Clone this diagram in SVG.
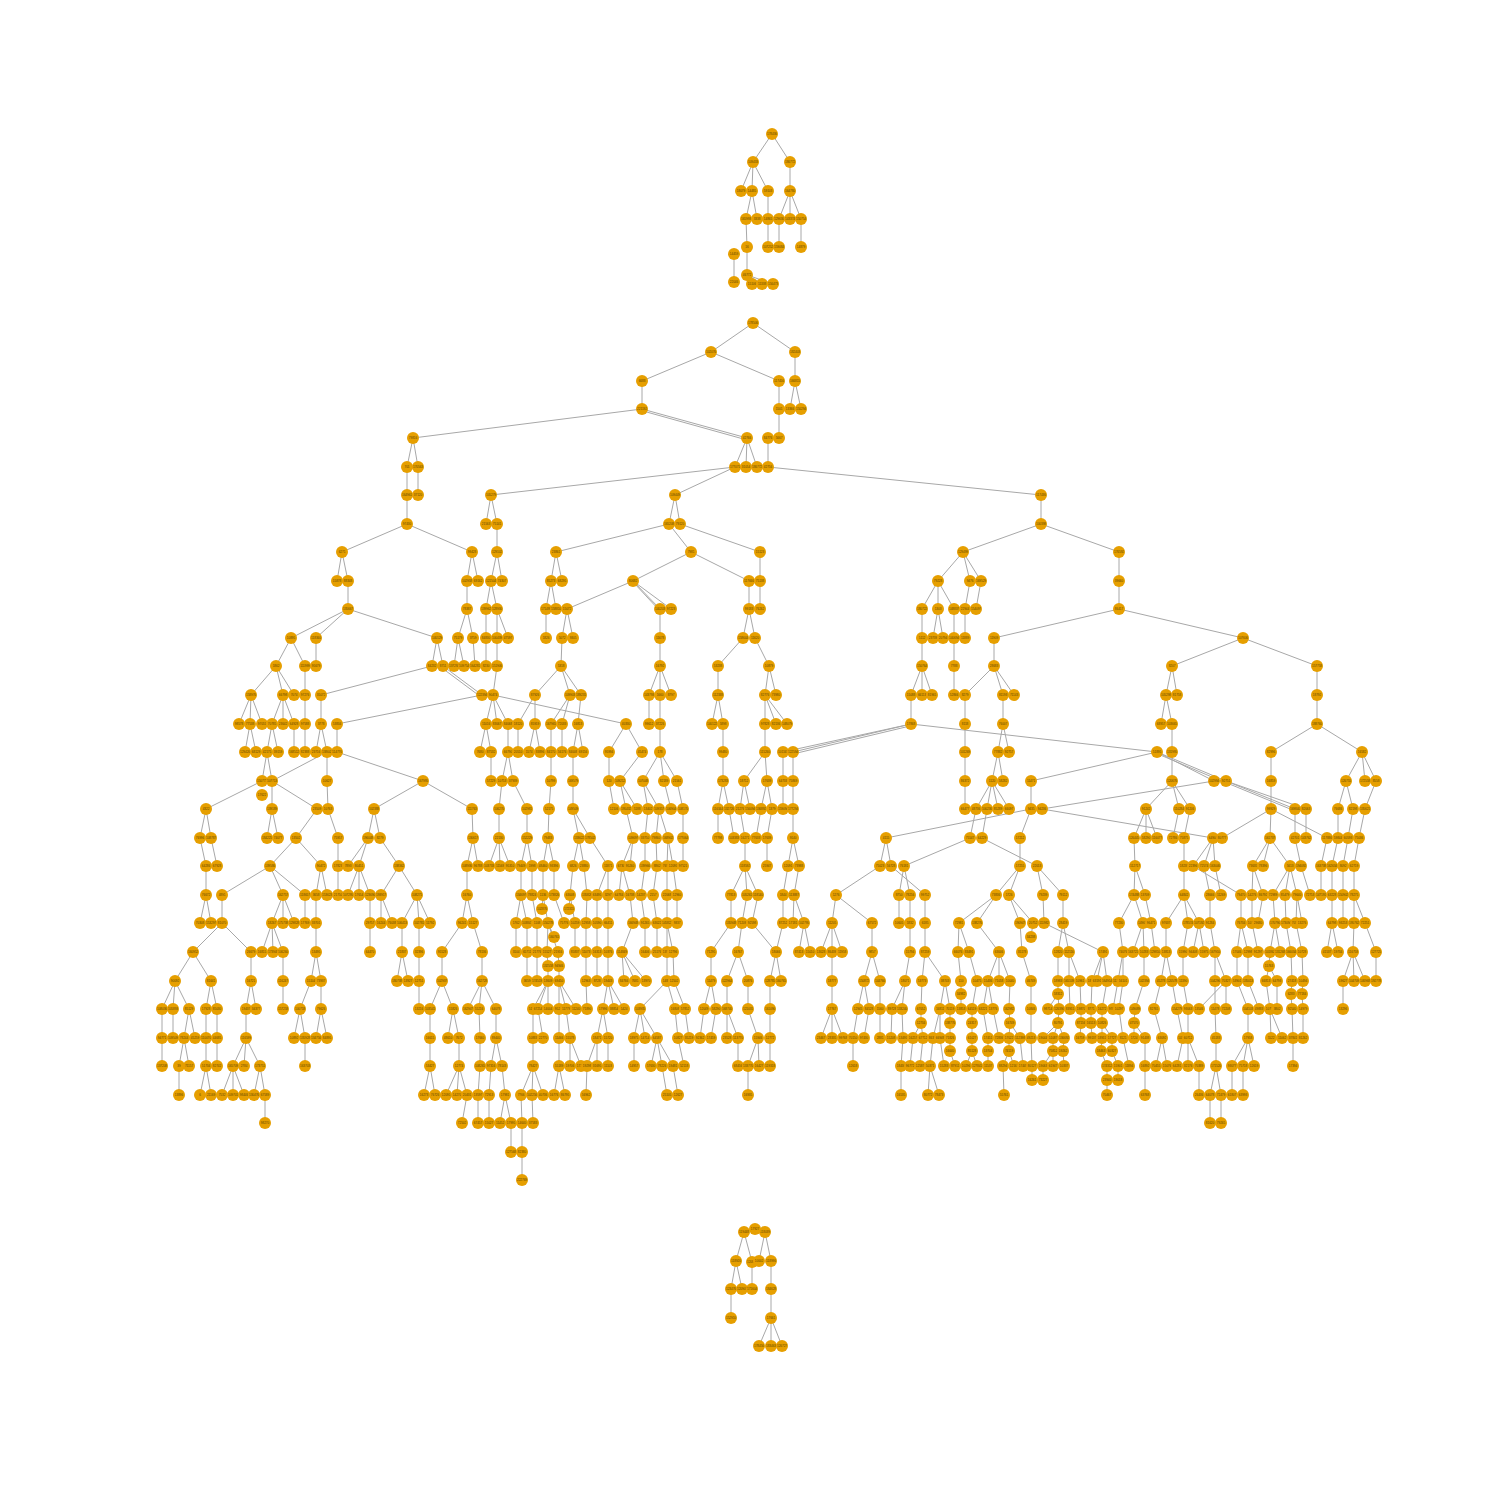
<svg xmlns="http://www.w3.org/2000/svg" width="1500" height="1500" viewBox="0 0 1500 1500">
<style>
#edges path{fill:none;stroke:#a8a8a8;stroke-width:1}
#nodes circle{fill:#e69f00}
#nodes text{font-family:"Liberation Sans",Arial,sans-serif;font-size:3px;fill:#5b4300;text-anchor:middle;dominant-baseline:central}
</style>
<rect width="1500" height="1500" fill="#ffffff"/>
<g id="edges">
<path d="M772 134 753 162M772 134 790 162M753 162 741 191M753 162 752 191M753 162 768 191M790 162 790 191M752 191 746 219M752 191 757 219M768 191 768 219M790 191 779 219M790 191 790 219M790 191 801 219M746 219 747 247M768 219 768 247M779 219 779 247M801 219 801 247M734 254 734 282M747 247 747 275M747 275 752 284M747 275 762 284M747 275 773 284"/>
<path d="M753 323 711 352M753 323 795 352M711 352 642 381M711 352 779 381M795 352 795 381M642 381 642 409M779 381 779 409M795 381 790 409M795 381 801 409M642 409 413 438M642 409 747 438M643 411 747 440M779 409 779 438M413 438 407 467M413 438 418 467M747 438 735 467M747 438 746 467M747 438 757 467M768 438 768 467M407 467 407 495M418 467 418 495M735 467 491 495M735 467 675 495M768 467 1041 495M407 495 407 524M491 495 486 524M491 495 497 524M675 495 669 524M675 495 680 524M1041 495 1041 524M407 524 342 552M407 524 472 552M497 524 497 552M669 524 556 552M669 524 691 552M680 524 760 552M1041 524 963 552M1041 524 1119 552M342 552 337 581M342 552 348 581M472 552 467 581M472 552 478 581M497 552 491 581M497 552 502 581M556 552 551 581M556 552 562 581M691 552 633 581M691 552 749 581M760 552 760 581M963 552 938 581M963 552 970 581M963 552 981 581M1119 552 1119 581"/>
<path d="M348 581 348 609M467 581 467 609M491 581 486 609M491 581 497 609M551 581 546 609M551 581 556 609M633 581 567 609M633 581 660 609M633 581 671 609M634 583 660 611M749 581 749 609M760 581 760 609M938 581 922 609M938 581 938 609M938 581 954 609M970 581 965 609M981 581 976 609M1119 581 1119 609M348 609 291 638M348 609 316 638M348 609 437 638M467 609 458 638M467 609 473 638M486 609 486 638M497 609 497 638M497 609 508 638M546 609 546 638M567 609 562 638M567 609 573 638M660 609 660 638M749 609 743 638M749 609 755 638M922 609 922 638M938 609 933 638M938 609 943 638M954 609 954 638M965 609 965 638M1119 609 994 638M1119 609 1243 638M291 638 276 666M291 638 305 666M316 638 316 666M437 638 432 666M437 638 443 666M458 638 454 666M458 638 464 666M473 638 475 666M486 638 486 666M497 638 497 666M562 638 561 666M660 638 660 666M743 638 718 666M755 638 769 666M922 638 922 666M954 638 954 666M994 638 994 666M1243 638 1172 666M1243 638 1317 666"/>
<path d="M276 666 251 695M276 666 283 695M276 666 294 695M305 666 305 695M432 666 321 695M443 666 482 695M442 668 481 697M497 666 493 695M561 666 535 695M561 666 570 695M561 666 581 695M660 666 649 695M660 666 660 695M660 666 671 695M718 666 718 695M769 666 765 695M769 666 776 695M922 666 911 695M922 666 922 695M922 666 932 695M954 666 954 695M994 666 965 695M994 666 1003 695M994 666 1014 695M1172 666 1166 695M1172 666 1177 695M1317 666 1317 695M251 695 239 724M251 695 250 724M251 695 262 724M283 695 272 724M283 695 283 724M283 695 294 724M305 695 305 724M321 695 321 724M482 695 337 724M493 695 486 724M493 695 497 724M493 695 508 724M493 695 626 724M535 695 518 724M535 695 535 724M570 695 551 724M570 695 562 724M581 695 578 724M649 695 649 724M660 695 660 724M718 695 712 724M718 695 723 724M765 695 765 724M765 695 776 724M765 695 787 724M911 695 911 724M965 695 965 724M1003 695 1003 724M1166 695 1161 724M1166 695 1172 724M1317 695 1317 724"/>
<path d="M250 724 245 752M250 724 256 752M272 724 267 752M272 724 278 752M294 724 294 752M305 724 305 752M321 724 316 752M321 724 327 752M337 724 337 752M486 724 480 752M486 724 491 752M508 724 508 752M518 724 518 752M535 724 529 752M535 724 540 752M551 724 551 752M562 724 562 752M578 724 573 752M578 724 583 752M626 724 609 752M626 724 642 752M660 724 660 752M723 724 723 752M765 724 765 752M911 724 783 752M911 724 793 752M910 726 793 754M911 724 1157 752M965 724 965 752M1003 724 998 752M1003 724 1009 752M1172 724 1172 752M1317 724 1271 752M1317 724 1362 752M267 752 262 781M267 752 272 781M327 752 327 781M327 752 272 781M337 752 423 781M491 752 491 781M508 752 502 781M508 752 513 781M551 752 551 781M573 752 573 781M609 752 609 781M642 752 620 781M660 752 643 781M660 752 664 781M660 752 677 781M723 752 723 781M765 752 744 781M765 752 767 781M783 752 783 781M793 752 793 781M965 752 965 781M998 752 992 781M998 752 1003 781M1157 752 1031 781M1157 752 1214 781M1157 752 1226 781M1158 754 1226 783M1172 752 1172 781M1271 752 1271 781M1362 752 1346 781M1362 752 1365 781M1362 752 1376 781"/>
<path d="M262 781 206 809M272 781 272 809M272 781 317 809M327 781 328 809M423 781 374 809M423 781 472 809M502 781 499 809M513 781 527 809M551 781 549 809M573 781 573 809M609 781 614 809M620 781 626 809M620 781 637 809M643 781 648 809M643 781 659 809M664 781 671 809M677 781 683 809M723 781 718 809M723 781 729 809M744 781 740 809M744 781 750 809M767 781 761 809M767 781 772 809M783 781 783 809M793 781 793 809M965 781 965 809M992 781 976 809M992 781 987 809M992 781 998 809M992 781 1009 809M1031 781 1031 809M1214 781 1042 809M1172 781 1146 809M1172 781 1179 809M1172 781 1190 809M1226 781 1295 809M1226 781 1306 809M1227 783 1295 811M1271 781 1271 809M1346 781 1338 809M1346 781 1353 809M1376 781 1365 809M206 809 200 838M206 809 211 838M272 809 267 838M272 809 278 838M317 809 296 838M328 809 338 838M374 809 368 838M374 809 380 838M472 809 473 838M499 809 499 838M527 809 527 838M549 809 548 838M573 809 579 838M573 809 590 838M626 809 633 838M648 809 645 838M659 809 656 838M659 809 668 838M683 809 683 838M718 809 718 838M729 809 734 838M740 809 745 838M761 809 756 838M772 809 767 838M793 809 793 838M1031 809 886 838M1031 809 1020 838M976 809 970 838M987 809 982 838M1042 809 1213 838M1271 809 1222 838M1271 809 1270 838M1271 809 1327 838M1146 809 1134 838M1146 809 1146 838M1146 809 1157 838M1179 809 1173 838M1190 809 1184 838M1295 809 1295 838M1306 809 1306 838M1338 809 1338 838M1353 809 1348 838M1365 809 1359 838"/>
<path d="M200 838 206 866M211 838 217 866M296 838 270 866M296 838 321 866M338 838 338 866M368 838 348 866M368 838 359 866M380 838 399 866M473 838 467 866M473 838 478 866M499 838 489 866M499 838 500 866M499 838 510 866M527 838 521 866M527 838 532 866M548 838 543 866M548 838 554 866M579 838 573 866M579 838 584 866M590 838 608 866M633 838 622 866M633 838 630 866M645 838 645 866M656 838 657 866M668 838 667 866M668 838 673 866M683 838 683 866M745 838 745 866M767 838 767 866M793 838 788 866M793 838 799 866M886 838 880 866M886 838 891 866M970 838 904 866M982 838 1037 866M1020 838 1020 866M1134 838 1135 866M1184 838 1184 866M1213 838 1193 866M1213 838 1204 866M1213 838 1215 866M1270 838 1253 866M1270 838 1263 866M1270 838 1290 866M1295 838 1301 866M1327 838 1321 866M1338 838 1332 866M1348 838 1343 866M1359 838 1354 866"/>
<path d="M206 866 206 895M270 866 222 895M270 866 283 895M270 866 305 895M321 866 316 895M321 866 327 895M338 866 338 895M359 866 348 895M359 866 359 895M359 866 370 895M399 866 381 895M399 866 417 895M467 866 467 895M521 866 521 895M532 866 532 895M543 866 543 895M554 866 554 895M573 866 570 895M584 866 587 895M608 866 597 895M608 866 608 895M622 866 619 895M622 866 630 895M645 866 641 895M657 866 653 895M667 866 667 895M673 866 677 895M745 866 731 895M745 866 747 895M745 866 758 895M788 866 783 895M799 866 794 895M880 866 836 895M904 866 899 895M904 866 910 895M891 866 925 895M1020 866 996 895M1020 866 1009 895M1037 866 1043 895M1037 866 1063 895M1135 866 1134 895M1135 866 1145 895M1184 866 1184 895M1204 866 1210 895M1215 866 1221 895M1193 866 1241 895M1253 866 1252 895M1253 866 1263 895M1290 866 1273 895M1290 866 1285 895M1290 866 1297 895M1301 866 1310 895M1321 866 1321 895M1332 866 1332 895M1343 866 1343 895M1354 866 1354 895"/>
<path d="M206 895 200 923M206 895 211 923M222 895 222 923M283 895 272 923M283 895 283 923M283 895 294 923M305 895 305 923M316 895 316 923M370 895 370 923M381 895 381 923M381 895 392 923M417 895 402 923M417 895 419 923M417 895 430 923M467 895 462 923M467 895 473 923M521 895 516 923M521 895 527 923M532 895 537 923M543 895 548 923M543 895 542 909M554 895 564 923M570 895 569 909M570 895 575 923M587 895 586 923M597 895 597 923M608 895 608 923M630 895 633 923M641 895 645 923M653 895 657 923M667 895 667 923M677 895 677 923M731 895 731 923M747 895 742 923M758 895 752 923M783 895 783 923M794 895 793 923M794 895 804 923M836 895 832 923M836 895 872 923M899 895 899 923M910 895 910 923M925 895 925 923M996 895 959 923M996 895 977 923M1009 895 1020 923M1009 895 1033 923M1043 895 1044 923M1063 895 1063 923M1134 895 1119 923M1134 895 1143 923M1145 895 1151 923M1184 895 1166 923M1184 895 1188 923M1184 895 1199 923M1210 895 1210 923M1241 895 1241 923M1252 895 1252 923M1263 895 1258 923M1273 895 1275 923M1285 895 1286 923M1297 895 1296 923M1297 895 1302 923M1332 895 1332 923M1343 895 1343 923M1354 895 1354 923M1354 895 1365 923"/>
<path d="M222 923 193 952M222 923 251 952M272 923 262 952M272 923 273 952M272 923 283 952M316 923 316 952M370 923 370 952M402 923 402 952M419 923 419 952M462 923 442 952M473 923 482 952M516 923 516 952M527 923 527 952M537 923 537 952M548 923 547 952M548 923 558 952M548 923 554 937M575 923 575 952M586 923 586 952M597 923 597 952M608 923 608 952M633 923 622 952M645 923 645 952M657 923 657 952M667 923 667 952M667 923 673 952M731 923 711 952M742 923 738 952M752 923 776 952M783 923 776 952M804 923 799 952M804 923 810 952M832 923 821 952M832 923 832 952M832 923 842 952M872 923 872 952M910 923 910 952M925 923 925 952M959 923 958 952M959 923 969 952M977 923 999 952M1020 923 1022 952M1033 923 1031 937M1044 923 1103 952M1063 923 1058 952M1063 923 1069 952M1119 923 1123 952M1143 923 1133 952M1143 923 1144 952M1151 923 1155 952M1166 923 1166 952M1188 923 1183 952M1199 923 1193 952M1199 923 1204 952M1210 923 1215 952M1241 923 1237 952M1241 923 1248 952M1252 923 1258 952M1275 923 1270 952M1275 923 1280 952M1286 923 1291 952M1296 923 1302 952M1332 923 1327 952M1332 923 1338 952M1354 923 1353 952M1365 923 1376 952"/>
<path d="M547 952 548 966M558 952 559 966M1270 952 1269 966M193 952 175 981M193 952 211 981M251 952 251 981M283 952 283 981M316 952 311 981M316 952 321 981M402 952 397 981M402 952 408 981M419 952 419 981M442 952 442 981M482 952 482 981M527 952 527 981M537 952 537 981M548 966 548 981M559 966 559 981M586 952 586 981M597 952 597 981M608 952 608 981M622 952 624 981M622 952 635 981M622 952 646 981M667 952 667 981M673 952 674 981M711 952 711 981M738 952 727 981M738 952 748 981M776 952 770 981M776 952 781 981M832 952 832 981M872 952 864 981M872 952 880 981M910 952 905 981M925 952 922 981M925 952 945 981M958 952 961 981M969 952 977 981M999 952 988 981M999 952 999 981M999 952 1010 981M1022 952 1031 981M1058 952 1058 981M1069 952 1069 981M1069 952 1080 981M1103 952 1092 981M1103 952 1097 981M1103 952 1107 981M1123 952 1118 981M1123 952 1123 981M1144 952 1144 981M1166 952 1161 981M1166 952 1172 981M1183 952 1183 981M1215 952 1215 981M1215 952 1226 981M1237 952 1237 981M1248 952 1248 981M1269 966 1266 981M1269 966 1277 981M1291 952 1292 981M1302 952 1303 981M1353 952 1343 981M1353 952 1354 981M1353 952 1365 981M1376 952 1376 981"/>
<path d="M961 981 961 994M1058 981 1058 994M1292 981 1291 994M1303 981 1302 994M175 981 162 1009M175 981 173 1009M175 981 189 1009M211 981 206 1009M211 981 217 1009M251 981 246 1009M251 981 256 1009M283 981 283 1009M311 981 300 1009M321 981 321 1009M419 981 419 1009M442 981 430 1009M442 981 453 1009M482 981 468 1009M482 981 479 1009M482 981 496 1009M548 981 533 1009M548 981 538 1009M548 981 548 1009M559 981 559 1009M559 981 566 1009M559 981 576 1009M586 981 587 1009M608 981 603 1009M608 981 614 1009M608 981 624 1009M667 981 640 1009M667 981 675 1009M674 981 685 1009M711 981 704 1009M711 981 716 1009M727 981 727 1009M748 981 748 1009M770 981 770 1009M832 981 832 1009M864 981 858 1009M864 981 869 1009M880 981 880 1009M905 981 892 1009M905 981 902 1009M922 981 921 1009M945 981 940 1009M945 981 950 1009M961 994 961 1009M977 981 972 1009M988 981 983 1009M988 981 993 1009M1010 981 1009 1009M1031 981 1031 1009M1058 994 1048 1009M1058 994 1059 1009M1069 981 1070 1009M1080 981 1081 1009M1092 981 1091 1009M1107 981 1102 1009M1118 981 1113 1009M1123 981 1119 1009M1144 981 1135 1009M1161 981 1154 1009M1172 981 1177 1009M1183 981 1188 1009M1215 981 1215 1009M1226 981 1199 1009M1226 981 1226 1009M1237 981 1248 1009M1248 981 1259 1009M1266 981 1270 1009M1277 981 1277 1009M1291 994 1292 1009M1302 994 1303 1009M1343 981 1343 1009"/>
<path d="M921 1009 921 1023M950 1009 950 1023M972 1009 972 1023M1009 1009 1010 1023M1059 1009 1058 1023M1081 1009 1081 1023M1091 1009 1091 1023M1102 1009 1102 1023M1135 1009 1134 1023M162 1009 162 1038M173 1009 173 1038M189 1009 184 1038M189 1009 195 1038M206 1009 206 1038M217 1009 217 1038M246 1009 246 1038M300 1009 294 1038M300 1009 305 1038M321 1009 316 1038M321 1009 327 1038M430 1009 430 1038M453 1009 448 1038M453 1009 459 1038M479 1009 480 1038M496 1009 496 1038M533 1009 533 1038M538 1009 543 1038M559 1009 559 1038M566 1009 570 1038M603 1009 597 1038M603 1009 608 1038M640 1009 634 1038M640 1009 645 1038M640 1009 657 1038M675 1009 678 1038M685 1009 689 1038M704 1009 700 1038M716 1009 711 1038M727 1009 727 1038M727 1009 738 1038M748 1009 758 1038M770 1009 770 1038M832 1009 821 1038M832 1009 832 1038M832 1009 843 1038M858 1009 853 1038M869 1009 864 1038M880 1009 880 1038M892 1009 891 1038M902 1009 903 1038M921 1023 913 1038M921 1023 923 1038M940 1009 933 1038M940 1009 940 1038M950 1023 950 1038M972 1023 972 1038M983 1009 988 1038M993 1009 999 1038M1010 1023 1009 1038M1010 1023 1020 1038M1031 1009 1031 1038M1058 1023 1043 1038M1058 1023 1053 1038M1058 1023 1064 1038M1081 1023 1080 1038M1091 1023 1092 1038M1102 1023 1102 1038M1102 1023 1112 1038M1119 1009 1123 1038M1134 1023 1134 1038M1134 1023 1145 1038M1154 1009 1162 1038M1177 1009 1183 1038M1188 1009 1188 1038M1215 1009 1216 1038M1248 1009 1248 1038M1270 1009 1271 1038M1270 1009 1282 1038M1292 1009 1293 1038M1303 1009 1303 1038"/>
<path d="M950 1038 950 1051M972 1038 972 1051M988 1038 988 1051M1009 1038 1009 1051M1053 1038 1053 1051M1064 1038 1063 1051M1102 1038 1101 1051M1112 1038 1112 1051M162 1038 162 1066M184 1038 179 1066M184 1038 189 1066M206 1038 206 1066M217 1038 217 1066M246 1038 233 1066M246 1038 244 1066M246 1038 260 1066M305 1038 305 1066M430 1038 430 1066M459 1038 459 1066M480 1038 480 1066M496 1038 491 1066M496 1038 502 1066M533 1038 533 1066M559 1038 559 1066M570 1038 570 1066M570 1038 581 1066M597 1038 587 1066M597 1038 597 1066M608 1038 608 1066M634 1038 634 1066M657 1038 651 1066M657 1038 662 1066M657 1038 673 1066M678 1038 684 1066M738 1038 738 1066M758 1038 748 1066M758 1038 759 1066M770 1038 770 1066M853 1038 853 1066M903 1038 901 1066M913 1038 910 1066M923 1038 920 1066M933 1038 930 1066M940 1038 944 1066M950 1051 955 1066M972 1051 966 1066M972 1051 977 1066M988 1051 988 1066M1009 1051 1003 1066M1009 1051 1014 1066M1020 1038 1023 1066M1031 1038 1032 1066M1053 1051 1043 1066M1053 1051 1053 1066M1063 1051 1064 1066M1101 1051 1107 1066M1112 1051 1118 1066M1123 1038 1129 1066M1145 1038 1145 1066M1162 1038 1156 1066M1162 1038 1167 1066M1183 1038 1177 1066M1188 1038 1188 1066M1188 1038 1199 1066M1216 1038 1216 1066M1248 1038 1232 1066M1248 1038 1243 1066M1248 1038 1254 1066M1293 1038 1293 1066"/>
<path d="M1032 1066 1032 1080M1043 1066 1043 1080M1107 1066 1107 1080M1118 1066 1118 1080M179 1066 179 1095M206 1066 200 1095M206 1066 211 1095M233 1066 222 1095M233 1066 233 1095M233 1066 244 1095M260 1066 254 1095M260 1066 265 1095M430 1066 424 1095M430 1066 435 1095M459 1066 446 1095M459 1066 457 1095M459 1066 467 1095M480 1066 478 1095M491 1066 489 1095M502 1066 505 1095M533 1066 521 1095M533 1066 532 1095M533 1066 543 1095M559 1066 554 1095M559 1066 565 1095M587 1066 586 1095M662 1066 667 1095M673 1066 678 1095M748 1066 748 1095M901 1066 901 1095M930 1066 928 1095M930 1066 939 1095M1003 1066 1004 1095M1107 1080 1107 1095M1145 1066 1145 1095M1199 1066 1199 1095M1216 1066 1210 1095M1216 1066 1221 1095M1232 1066 1232 1095M1243 1066 1243 1095M265 1095 265 1123M467 1095 462 1123M478 1095 478 1123M489 1095 489 1123M505 1095 500 1123M505 1095 511 1123M521 1095 522 1123M532 1095 533 1123M1210 1095 1210 1123M1221 1095 1221 1123M511 1123 511 1152M522 1123 522 1152M522 1152 522 1180"/>
<path d="M755 1229 744 1232M755 1229 765 1232M744 1232 736 1261M744 1232 752 1262M765 1232 759 1261M765 1232 771 1261M736 1261 731 1289M736 1261 742 1289M752 1262 752 1289M771 1261 771 1289M731 1289 731 1318M771 1289 771 1318M771 1318 759 1346M771 1318 771 1346M771 1318 782 1346"/>
</g>
<g id="nodes">
<g id="t1" transform="translate(772 134)"><circle r="6"/><text>178436</text></g>
<g id="t2" transform="translate(753 162)"><circle r="6"/><text>109433</text></g>
<g id="t3" transform="translate(790 162)"><circle r="6"/><text>186772</text></g>
<g id="t4" transform="translate(741 191)"><circle r="6"/><text>18079</text></g>
<g id="t5" transform="translate(752 191)"><circle r="6"/><text>14485</text></g>
<g id="t6" transform="translate(768 191)"><circle r="6"/><text>59103</text></g>
<g id="t7" transform="translate(790 191)"><circle r="6"/><text>164780</text></g>
<g id="t8" transform="translate(746 219)"><circle r="6"/><text>165993</text></g>
<g id="t9" transform="translate(757 219)"><circle r="6"/><text>3338</text></g>
<g id="t10" transform="translate(768 219)"><circle r="6"/><text>14865</text></g>
<g id="t11" transform="translate(779 219)"><circle r="6"/><text>129630</text></g>
<g id="t12" transform="translate(790 219)"><circle r="6"/><text>143374</text></g>
<g id="t13" transform="translate(801 219)"><circle r="6"/><text>150754</text></g>
<g id="t14" transform="translate(747 247)"><circle r="6"/><text>16</text></g>
<g id="t15" transform="translate(768 247)"><circle r="6"/><text>107252</text></g>
<g id="t16" transform="translate(779 247)"><circle r="6"/><text>159084</text></g>
<g id="t17" transform="translate(801 247)"><circle r="6"/><text>14879</text></g>
<g id="t18" transform="translate(734 254)"><circle r="6"/><text>14459</text></g>
<g id="t19" transform="translate(734 282)"><circle r="6"/><text>22046</text></g>
<g id="t20" transform="translate(747 275)"><circle r="6"/><text>46772</text></g>
<g id="t21" transform="translate(752 284)"><circle r="6"/><text>15106</text></g>
<g id="t22" transform="translate(762 284)"><circle r="6"/><text>11338</text></g>
<g id="t23" transform="translate(773 284)"><circle r="6"/><text>156473</text></g>
<g id="m0_1" transform="translate(753 323)"><circle r="6"/><text>178506</text></g>
<g id="m1_1" transform="translate(711 352)"><circle r="6"/><text>102076</text></g>
<g id="m1_2" transform="translate(795 352)"><circle r="6"/><text>182403</text></g>
<g id="m2_1" transform="translate(642 381)"><circle r="6"/><text>6688</text></g>
<g id="m2_2" transform="translate(779 381)"><circle r="6"/><text>117456</text></g>
<g id="m2_3" transform="translate(795 381)"><circle r="6"/><text>166815</text></g>
<g id="m3_1" transform="translate(642 409)"><circle r="6"/><text>221192</text></g>
<g id="m3_2" transform="translate(779 409)"><circle r="6"/><text>1501</text></g>
<g id="m3_3" transform="translate(790 409)"><circle r="6"/><text>13366</text></g>
<g id="m3_4" transform="translate(801 409)"><circle r="6"/><text>150294</text></g>
<g id="m4_1" transform="translate(413 438)"><circle r="6"/><text>79816</text></g>
<g id="m4_2" transform="translate(747 438)"><circle r="6"/><text>42766</text></g>
<g id="m4_3" transform="translate(768 438)"><circle r="6"/><text>84776</text></g>
<g id="m4_4" transform="translate(779 438)"><circle r="6"/><text>5667</text></g>
<g id="m5_1" transform="translate(407 467)"><circle r="6"/><text>701</text></g>
<g id="m5_2" transform="translate(418 467)"><circle r="6"/><text>170563</text></g>
<g id="m5_3" transform="translate(735 467)"><circle r="6"/><text>177071</text></g>
<g id="m5_4" transform="translate(746 467)"><circle r="6"/><text>31054</text></g>
<g id="m5_5" transform="translate(757 467)"><circle r="6"/><text>186772</text></g>
<g id="m5_6" transform="translate(768 467)"><circle r="6"/><text>42756</text></g>
<g id="m6_1" transform="translate(407 495)"><circle r="6"/><text>164961</text></g>
<g id="m6_2" transform="translate(418 495)"><circle r="6"/><text>37120</text></g>
<g id="m6_3" transform="translate(491 495)"><circle r="6"/><text>105279</text></g>
<g id="m6_4" transform="translate(675 495)"><circle r="6"/><text>109449</text></g>
<g id="m6_5" transform="translate(1041 495)"><circle r="6"/><text>117436</text></g>
<g id="m7_1" transform="translate(407 524)"><circle r="6"/><text>97430</text></g>
<g id="m7_2" transform="translate(486 524)"><circle r="6"/><text>21563</text></g>
<g id="m7_3" transform="translate(497 524)"><circle r="6"/><text>75141</text></g>
<g id="m7_4" transform="translate(669 524)"><circle r="6"/><text>165208</text></g>
<g id="m7_5" transform="translate(680 524)"><circle r="6"/><text>79120</text></g>
<g id="m7_6" transform="translate(1041 524)"><circle r="6"/><text>100398</text></g>
<g id="m8_1" transform="translate(342 552)"><circle r="6"/><text>6271</text></g>
<g id="m8_2" transform="translate(472 552)"><circle r="6"/><text>99428</text></g>
<g id="m8_3" transform="translate(497 552)"><circle r="6"/><text>129102</text></g>
<g id="m8_4" transform="translate(556 552)"><circle r="6"/><text>23861</text></g>
<g id="m8_5" transform="translate(691 552)"><circle r="6"/><text>7981</text></g>
<g id="m8_6" transform="translate(760 552)"><circle r="6"/><text>15123</text></g>
<g id="m8_7" transform="translate(963 552)"><circle r="6"/><text>129499</text></g>
<g id="m8_8" transform="translate(1119 552)"><circle r="6"/><text>176592</text></g>
<g id="m9_1" transform="translate(337 581)"><circle r="6"/><text>15878</text></g>
<g id="m9_2" transform="translate(348 581)"><circle r="6"/><text>88348</text></g>
<g id="m9_3" transform="translate(467 581)"><circle r="6"/><text>102958</text></g>
<g id="m9_4" transform="translate(478 581)"><circle r="6"/><text>69162</text></g>
<g id="m9_5" transform="translate(491 581)"><circle r="6"/><text>121504</text></g>
<g id="m9_6" transform="translate(502 581)"><circle r="6"/><text>74307</text></g>
<g id="m9_7" transform="translate(551 581)"><circle r="6"/><text>85273</text></g>
<g id="m9_8" transform="translate(562 581)"><circle r="6"/><text>68295</text></g>
<g id="m9_9" transform="translate(633 581)"><circle r="6"/><text>80682</text></g>
<g id="m9_10" transform="translate(749 581)"><circle r="6"/><text>117666</text></g>
<g id="m9_11" transform="translate(760 581)"><circle r="6"/><text>75138</text></g>
<g id="m9_12" transform="translate(938 581)"><circle r="6"/><text>79228</text></g>
<g id="m9_13" transform="translate(970 581)"><circle r="6"/><text>9476</text></g>
<g id="m9_14" transform="translate(981 581)"><circle r="6"/><text>169529</text></g>
<g id="m9_15" transform="translate(1119 581)"><circle r="6"/><text>39660</text></g>
<g id="m10_1" transform="translate(348 609)"><circle r="6"/><text>135667</text></g>
<g id="m10_2" transform="translate(467 609)"><circle r="6"/><text>78387</text></g>
<g id="m10_3" transform="translate(486 609)"><circle r="6"/><text>139962</text></g>
<g id="m10_4" transform="translate(497 609)"><circle r="6"/><text>128930</text></g>
<g id="m10_5" transform="translate(546 609)"><circle r="6"/><text>171495</text></g>
<g id="m10_6" transform="translate(556 609)"><circle r="6"/><text>158810</text></g>
<g id="m10_7" transform="translate(567 609)"><circle r="6"/><text>15072</text></g>
<g id="m10_8" transform="translate(660 609)"><circle r="6"/><text>140203</text></g>
<g id="m10_9" transform="translate(671 609)"><circle r="6"/><text>97223</text></g>
<g id="m10_10" transform="translate(749 609)"><circle r="6"/><text>99183</text></g>
<g id="m10_11" transform="translate(760 609)"><circle r="6"/><text>76262</text></g>
<g id="m10_12" transform="translate(922 609)"><circle r="6"/><text>180722</text></g>
<g id="m10_13" transform="translate(938 609)"><circle r="6"/><text>1303</text></g>
<g id="m10_14" transform="translate(954 609)"><circle r="6"/><text>148837</text></g>
<g id="m10_15" transform="translate(965 609)"><circle r="6"/><text>22944</text></g>
<g id="m10_16" transform="translate(976 609)"><circle r="6"/><text>154097</text></g>
<g id="m10_17" transform="translate(1119 609)"><circle r="6"/><text>86417</text></g>
<g id="m11_1" transform="translate(291 638)"><circle r="6"/><text>10895</text></g>
<g id="m11_2" transform="translate(316 638)"><circle r="6"/><text>118360</text></g>
<g id="m11_3" transform="translate(437 638)"><circle r="6"/><text>140129</text></g>
<g id="m11_4" transform="translate(458 638)"><circle r="6"/><text>75179</text></g>
<g id="m11_5" transform="translate(473 638)"><circle r="6"/><text>3759</text></g>
<g id="m11_6" transform="translate(486 638)"><circle r="6"/><text>84830</text></g>
<g id="m11_7" transform="translate(497 638)"><circle r="6"/><text>100439</text></g>
<g id="m11_8" transform="translate(508 638)"><circle r="6"/><text>47597</text></g>
<g id="m11_9" transform="translate(546 638)"><circle r="6"/><text>1826</text></g>
<g id="m11_10" transform="translate(562 638)"><circle r="6"/><text>5072</text></g>
<g id="m11_11" transform="translate(573 638)"><circle r="6"/><text>9305</text></g>
<g id="m11_12" transform="translate(660 638)"><circle r="6"/><text>11678</text></g>
<g id="m11_13" transform="translate(743 638)"><circle r="6"/><text>158644</text></g>
<g id="m11_14" transform="translate(755 638)"><circle r="6"/><text>11620</text></g>
<g id="m11_15" transform="translate(922 638)"><circle r="6"/><text>5112</text></g>
<g id="m11_16" transform="translate(933 638)"><circle r="6"/><text>23739</text></g>
<g id="m11_17" transform="translate(943 638)"><circle r="6"/><text>20794</text></g>
<g id="m11_18" transform="translate(954 638)"><circle r="6"/><text>140694</text></g>
<g id="m11_19" transform="translate(965 638)"><circle r="6"/><text>11889</text></g>
<g id="m11_20" transform="translate(994 638)"><circle r="6"/><text>11909</text></g>
<g id="m11_21" transform="translate(1243 638)"><circle r="6"/><text>107606</text></g>
<g id="m12_1" transform="translate(276 666)"><circle r="6"/><text>1862</text></g>
<g id="m12_2" transform="translate(305 666)"><circle r="6"/><text>111999</text></g>
<g id="m12_3" transform="translate(316 666)"><circle r="6"/><text>95679</text></g>
<g id="m12_4" transform="translate(432 666)"><circle r="6"/><text>84232</text></g>
<g id="m12_5" transform="translate(443 666)"><circle r="6"/><text>8711</text></g>
<g id="m12_6" transform="translate(454 666)"><circle r="6"/><text>137292</text></g>
<g id="m12_7" transform="translate(464 666)"><circle r="6"/><text>109754</text></g>
<g id="m12_8" transform="translate(475 666)"><circle r="6"/><text>164281</text></g>
<g id="m12_9" transform="translate(486 666)"><circle r="6"/><text>8230</text></g>
<g id="m12_10" transform="translate(497 666)"><circle r="6"/><text>151906</text></g>
<g id="m12_11" transform="translate(561 666)"><circle r="6"/><text>5318</text></g>
<g id="m12_12" transform="translate(660 666)"><circle r="6"/><text>16792</text></g>
<g id="m12_13" transform="translate(718 666)"><circle r="6"/><text>53238</text></g>
<g id="m12_14" transform="translate(769 666)"><circle r="6"/><text>10879</text></g>
<g id="m12_15" transform="translate(922 666)"><circle r="6"/><text>150764</text></g>
<g id="m12_16" transform="translate(954 666)"><circle r="6"/><text>7788</text></g>
<g id="m12_17" transform="translate(994 666)"><circle r="6"/><text>28683</text></g>
<g id="m12_18" transform="translate(1172 666)"><circle r="6"/><text>8207</text></g>
<g id="m12_19" transform="translate(1317 666)"><circle r="6"/><text>157758</text></g>
<g id="m13_1" transform="translate(251 695)"><circle r="6"/><text>158976</text></g>
<g id="m13_2" transform="translate(283 695)"><circle r="6"/><text>66798</text></g>
<g id="m13_3" transform="translate(294 695)"><circle r="6"/><text>7074</text></g>
<g id="m13_4" transform="translate(305 695)"><circle r="6"/><text>97276</text></g>
<g id="m13_5" transform="translate(321 695)"><circle r="6"/><text>35072</text></g>
<g id="m13_6" transform="translate(482 695)"><circle r="6"/><text>122394</text></g>
<g id="m13_7" transform="translate(493 695)"><circle r="6"/><text>90474</text></g>
<g id="m13_8" transform="translate(535 695)"><circle r="6"/><text>87926</text></g>
<g id="m13_9" transform="translate(570 695)"><circle r="6"/><text>109903</text></g>
<g id="m13_10" transform="translate(581 695)"><circle r="6"/><text>189231</text></g>
<g id="m13_11" transform="translate(649 695)"><circle r="6"/><text>143793</text></g>
<g id="m13_12" transform="translate(660 695)"><circle r="6"/><text>1660</text></g>
<g id="m13_13" transform="translate(671 695)"><circle r="6"/><text>8797</text></g>
<g id="m13_14" transform="translate(718 695)"><circle r="6"/><text>112338</text></g>
<g id="m13_15" transform="translate(765 695)"><circle r="6"/><text>82776</text></g>
<g id="m13_16" transform="translate(776 695)"><circle r="6"/><text>73980</text></g>
<g id="m13_17" transform="translate(911 695)"><circle r="6"/><text>15088</text></g>
<g id="m13_18" transform="translate(922 695)"><circle r="6"/><text>66113</text></g>
<g id="m13_19" transform="translate(932 695)"><circle r="6"/><text>81965</text></g>
<g id="m13_20" transform="translate(954 695)"><circle r="6"/><text>52866</text></g>
<g id="m13_21" transform="translate(965 695)"><circle r="6"/><text>8279</text></g>
<g id="m13_22" transform="translate(1003 695)"><circle r="6"/><text>81193</text></g>
<g id="m13_23" transform="translate(1014 695)"><circle r="6"/><text>71143</text></g>
<g id="m13_24" transform="translate(1166 695)"><circle r="6"/><text>105298</text></g>
<g id="m13_25" transform="translate(1177 695)"><circle r="6"/><text>81758</text></g>
<g id="m13_26" transform="translate(1317 695)"><circle r="6"/><text>18792</text></g>
<g id="m14_1" transform="translate(239 724)"><circle r="6"/><text>98578</text></g>
<g id="m14_2" transform="translate(250 724)"><circle r="6"/><text>77538</text></g>
<g id="m14_3" transform="translate(262 724)"><circle r="6"/><text>97055</text></g>
<g id="m14_4" transform="translate(272 724)"><circle r="6"/><text>70785</text></g>
<g id="m14_5" transform="translate(283 724)"><circle r="6"/><text>23642</text></g>
<g id="m14_6" transform="translate(294 724)"><circle r="6"/><text>64928</text></g>
<g id="m14_7" transform="translate(305 724)"><circle r="6"/><text>97588</text></g>
<g id="m14_8" transform="translate(321 724)"><circle r="6"/><text>3778</text></g>
<g id="m14_9" transform="translate(337 724)"><circle r="6"/><text>53834</text></g>
<g id="m14_10" transform="translate(486 724)"><circle r="6"/><text>11016</text></g>
<g id="m14_11" transform="translate(497 724)"><circle r="6"/><text>83067</text></g>
<g id="m14_12" transform="translate(508 724)"><circle r="6"/><text>84068</text></g>
<g id="m14_13" transform="translate(518 724)"><circle r="6"/><text>18120</text></g>
<g id="m14_14" transform="translate(535 724)"><circle r="6"/><text>85919</text></g>
<g id="m14_15" transform="translate(551 724)"><circle r="6"/><text>167965</text></g>
<g id="m14_16" transform="translate(562 724)"><circle r="6"/><text>72033</text></g>
<g id="m14_17" transform="translate(578 724)"><circle r="6"/><text>16813</text></g>
<g id="m14_18" transform="translate(626 724)"><circle r="6"/><text>40330</text></g>
<g id="m14_19" transform="translate(649 724)"><circle r="6"/><text>99612</text></g>
<g id="m14_20" transform="translate(660 724)"><circle r="6"/><text>37226</text></g>
<g id="m14_21" transform="translate(712 724)"><circle r="6"/><text>140122</text></g>
<g id="m14_22" transform="translate(723 724)"><circle r="6"/><text>5898</text></g>
<g id="m14_23" transform="translate(765 724)"><circle r="6"/><text>97828</text></g>
<g id="m14_24" transform="translate(776 724)"><circle r="6"/><text>82136</text></g>
<g id="m14_25" transform="translate(787 724)"><circle r="6"/><text>148079</text></g>
<g id="m14_26" transform="translate(911 724)"><circle r="6"/><text>17868</text></g>
<g id="m14_27" transform="translate(965 724)"><circle r="6"/><text>8118</text></g>
<g id="m14_28" transform="translate(1003 724)"><circle r="6"/><text>76007</text></g>
<g id="m14_29" transform="translate(1161 724)"><circle r="6"/><text>68957</text></g>
<g id="m14_30" transform="translate(1172 724)"><circle r="6"/><text>103665</text></g>
<g id="m14_31" transform="translate(1317 724)"><circle r="6"/><text>188760</text></g>
<g id="m15_1" transform="translate(245 752)"><circle r="6"/><text>129426</text></g>
<g id="m15_2" transform="translate(256 752)"><circle r="6"/><text>68129</text></g>
<g id="m15_3" transform="translate(267 752)"><circle r="6"/><text>42175</text></g>
<g id="m15_4" transform="translate(278 752)"><circle r="6"/><text>39159</text></g>
<g id="m15_5" transform="translate(294 752)"><circle r="6"/><text>168512</text></g>
<g id="m15_6" transform="translate(305 752)"><circle r="6"/><text>82388</text></g>
<g id="m15_7" transform="translate(316 752)"><circle r="6"/><text>23716</text></g>
<g id="m15_8" transform="translate(327 752)"><circle r="6"/><text>138642</text></g>
<g id="m15_9" transform="translate(337 752)"><circle r="6"/><text>114776</text></g>
<g id="m15_10" transform="translate(480 752)"><circle r="6"/><text>7680</text></g>
<g id="m15_11" transform="translate(491 752)"><circle r="6"/><text>87532</text></g>
<g id="m15_12" transform="translate(508 752)"><circle r="6"/><text>66790</text></g>
<g id="m15_13" transform="translate(518 752)"><circle r="6"/><text>20510</text></g>
<g id="m15_14" transform="translate(529 752)"><circle r="6"/><text>1574</text></g>
<g id="m15_15" transform="translate(540 752)"><circle r="6"/><text>83896</text></g>
<g id="m15_16" transform="translate(551 752)"><circle r="6"/><text>84170</text></g>
<g id="m15_17" transform="translate(562 752)"><circle r="6"/><text>56176</text></g>
<g id="m15_18" transform="translate(573 752)"><circle r="6"/><text>84008</text></g>
<g id="m15_19" transform="translate(583 752)"><circle r="6"/><text>69156</text></g>
<g id="m15_20" transform="translate(609 752)"><circle r="6"/><text>95994</text></g>
<g id="m15_21" transform="translate(642 752)"><circle r="6"/><text>45474</text></g>
<g id="m15_22" transform="translate(660 752)"><circle r="6"/><text>178</text></g>
<g id="m15_23" transform="translate(723 752)"><circle r="6"/><text>99480</text></g>
<g id="m15_24" transform="translate(765 752)"><circle r="6"/><text>115260</text></g>
<g id="m15_25" transform="translate(783 752)"><circle r="6"/><text>101165</text></g>
<g id="m15_26" transform="translate(793 752)"><circle r="6"/><text>122594</text></g>
<g id="m15_27" transform="translate(965 752)"><circle r="6"/><text>101269</text></g>
<g id="m15_28" transform="translate(998 752)"><circle r="6"/><text>77882</text></g>
<g id="m15_29" transform="translate(1009 752)"><circle r="6"/><text>92757</text></g>
<g id="m15_30" transform="translate(1157 752)"><circle r="6"/><text>51895</text></g>
<g id="m15_31" transform="translate(1172 752)"><circle r="6"/><text>131995</text></g>
<g id="m15_32" transform="translate(1271 752)"><circle r="6"/><text>82996</text></g>
<g id="m15_33" transform="translate(1362 752)"><circle r="6"/><text>16582</text></g>
<g id="m16_1" transform="translate(262 781)"><circle r="6"/><text>150771</text></g>
<g id="m16_2" transform="translate(272 781)"><circle r="6"/><text>107713</text></g>
<g id="m16_3" transform="translate(327 781)"><circle r="6"/><text>10627</text></g>
<g id="m16_4" transform="translate(423 781)"><circle r="6"/><text>167995</text></g>
<g id="m16_5" transform="translate(491 781)"><circle r="6"/><text>57229</text></g>
<g id="m16_6" transform="translate(502 781)"><circle r="6"/><text>10753</text></g>
<g id="m16_7" transform="translate(513 781)"><circle r="6"/><text>37939</text></g>
<g id="m16_8" transform="translate(551 781)"><circle r="6"/><text>10799</text></g>
<g id="m16_9" transform="translate(573 781)"><circle r="6"/><text>169579</text></g>
<g id="m16_10" transform="translate(609 781)"><circle r="6"/><text>120</text></g>
<g id="m16_11" transform="translate(620 781)"><circle r="6"/><text>109212</text></g>
<g id="m16_12" transform="translate(643 781)"><circle r="6"/><text>107048</text></g>
<g id="m16_13" transform="translate(664 781)"><circle r="6"/><text>82189</text></g>
<g id="m16_14" transform="translate(677 781)"><circle r="6"/><text>21561</text></g>
<g id="m16_15" transform="translate(723 781)"><circle r="6"/><text>173283</text></g>
<g id="m16_16" transform="translate(744 781)"><circle r="6"/><text>18712</text></g>
<g id="m16_17" transform="translate(767 781)"><circle r="6"/><text>17639</text></g>
<g id="m16_18" transform="translate(783 781)"><circle r="6"/><text>64733</text></g>
<g id="m16_19" transform="translate(793 781)"><circle r="6"/><text>75869</text></g>
<g id="m16_20" transform="translate(965 781)"><circle r="6"/><text>86372</text></g>
<g id="m16_21" transform="translate(992 781)"><circle r="6"/><text>1120</text></g>
<g id="m16_22" transform="translate(1003 781)"><circle r="6"/><text>58282</text></g>
<g id="m16_23" transform="translate(1031 781)"><circle r="6"/><text>11471</text></g>
<g id="m16_24" transform="translate(1172 781)"><circle r="6"/><text>120676</text></g>
<g id="m16_25" transform="translate(1214 781)"><circle r="6"/><text>102994</text></g>
<g id="m16_26" transform="translate(1226 781)"><circle r="6"/><text>92751</text></g>
<g id="m16_27" transform="translate(1271 781)"><circle r="6"/><text>16859</text></g>
<g id="m16_28" transform="translate(1346 781)"><circle r="6"/><text>126755</text></g>
<g id="m16_29" transform="translate(1365 781)"><circle r="6"/><text>172558</text></g>
<g id="m16_30" transform="translate(1376 781)"><circle r="6"/><text>8558</text></g>
<g id="m16_31" transform="translate(262 795)"><circle r="6"/><text>17622</text></g>
<g id="m17_1" transform="translate(206 809)"><circle r="6"/><text>4322</text></g>
<g id="m17_2" transform="translate(272 809)"><circle r="6"/><text>139189</text></g>
<g id="m17_3" transform="translate(317 809)"><circle r="6"/><text>23509</text></g>
<g id="m17_4" transform="translate(328 809)"><circle r="6"/><text>10763</text></g>
<g id="m17_5" transform="translate(374 809)"><circle r="6"/><text>102388</text></g>
<g id="m17_6" transform="translate(472 809)"><circle r="6"/><text>111763</text></g>
<g id="m17_7" transform="translate(499 809)"><circle r="6"/><text>106270</text></g>
<g id="m17_8" transform="translate(527 809)"><circle r="6"/><text>102981</text></g>
<g id="m17_9" transform="translate(549 809)"><circle r="6"/><text>52175</text></g>
<g id="m17_10" transform="translate(573 809)"><circle r="6"/><text>149509</text></g>
<g id="m17_11" transform="translate(614 809)"><circle r="6"/><text>12106</text></g>
<g id="m17_12" transform="translate(626 809)"><circle r="6"/><text>195432</text></g>
<g id="m17_13" transform="translate(637 809)"><circle r="6"/><text>5188</text></g>
<g id="m17_14" transform="translate(648 809)"><circle r="6"/><text>13402</text></g>
<g id="m17_15" transform="translate(659 809)"><circle r="6"/><text>109357</text></g>
<g id="m17_16" transform="translate(671 809)"><circle r="6"/><text>106904</text></g>
<g id="m17_17" transform="translate(683 809)"><circle r="6"/><text>108170</text></g>
<g id="m17_18" transform="translate(718 809)"><circle r="6"/><text>116344</text></g>
<g id="m17_19" transform="translate(729 809)"><circle r="6"/><text>132726</text></g>
<g id="m17_20" transform="translate(740 809)"><circle r="6"/><text>21276</text></g>
<g id="m17_21" transform="translate(750 809)"><circle r="6"/><text>156094</text></g>
<g id="m17_22" transform="translate(761 809)"><circle r="6"/><text>136892</text></g>
<g id="m17_23" transform="translate(772 809)"><circle r="6"/><text>1379</text></g>
<g id="m17_24" transform="translate(783 809)"><circle r="6"/><text>159094</text></g>
<g id="m17_25" transform="translate(793 809)"><circle r="6"/><text>177294</text></g>
<g id="m17_26" transform="translate(965 809)"><circle r="6"/><text>66477</text></g>
<g id="m17_27" transform="translate(976 809)"><circle r="6"/><text>48736</text></g>
<g id="m17_28" transform="translate(987 809)"><circle r="6"/><text>100236</text></g>
<g id="m17_29" transform="translate(998 809)"><circle r="6"/><text>85289</text></g>
<g id="m17_30" transform="translate(1009 809)"><circle r="6"/><text>66097</text></g>
<g id="m17_31" transform="translate(1031 809)"><circle r="6"/><text>9435</text></g>
<g id="m17_32" transform="translate(1042 809)"><circle r="6"/><text>94236</text></g>
<g id="m17_33" transform="translate(1146 809)"><circle r="6"/><text>91242</text></g>
<g id="m17_34" transform="translate(1179 809)"><circle r="6"/><text>110284</text></g>
<g id="m17_35" transform="translate(1190 809)"><circle r="6"/><text>91206</text></g>
<g id="m17_36" transform="translate(1271 809)"><circle r="6"/><text>99929</text></g>
<g id="m17_37" transform="translate(1295 809)"><circle r="6"/><text>169840</text></g>
<g id="m17_38" transform="translate(1306 809)"><circle r="6"/><text>82063</text></g>
<g id="m17_39" transform="translate(1338 809)"><circle r="6"/><text>76686</text></g>
<g id="m17_40" transform="translate(1353 809)"><circle r="6"/><text>82198</text></g>
<g id="m17_41" transform="translate(1365 809)"><circle r="6"/><text>135621</text></g>
<g id="m18_1" transform="translate(200 838)"><circle r="6"/><text>76996</text></g>
<g id="m18_2" transform="translate(211 838)"><circle r="6"/><text>108787</text></g>
<g id="m18_3" transform="translate(267 838)"><circle r="6"/><text>184225</text></g>
<g id="m18_4" transform="translate(278 838)"><circle r="6"/><text>74077</text></g>
<g id="m18_5" transform="translate(296 838)"><circle r="6"/><text>13502</text></g>
<g id="m18_6" transform="translate(338 838)"><circle r="6"/><text>75957</text></g>
<g id="m18_7" transform="translate(368 838)"><circle r="6"/><text>196048</text></g>
<g id="m18_8" transform="translate(380 838)"><circle r="6"/><text>8279</text></g>
<g id="m18_9" transform="translate(473 838)"><circle r="6"/><text>130617</text></g>
<g id="m18_10" transform="translate(499 838)"><circle r="6"/><text>22130</text></g>
<g id="m18_11" transform="translate(527 838)"><circle r="6"/><text>152229</text></g>
<g id="m18_12" transform="translate(548 838)"><circle r="6"/><text>79483</text></g>
<g id="m18_13" transform="translate(579 838)"><circle r="6"/><text>133622</text></g>
<g id="m18_14" transform="translate(590 838)"><circle r="6"/><text>178502</text></g>
<g id="m18_15" transform="translate(633 838)"><circle r="6"/><text>109697</text></g>
<g id="m18_16" transform="translate(645 838)"><circle r="6"/><text>33750</text></g>
<g id="m18_17" transform="translate(656 838)"><circle r="6"/><text>79860</text></g>
<g id="m18_18" transform="translate(668 838)"><circle r="6"/><text>168902</text></g>
<g id="m18_19" transform="translate(683 838)"><circle r="6"/><text>177064</text></g>
<g id="m18_20" transform="translate(718 838)"><circle r="6"/><text>77798</text></g>
<g id="m18_21" transform="translate(734 838)"><circle r="6"/><text>103383</text></g>
<g id="m18_22" transform="translate(745 838)"><circle r="6"/><text>16271</text></g>
<g id="m18_23" transform="translate(756 838)"><circle r="6"/><text>77633</text></g>
<g id="m18_24" transform="translate(767 838)"><circle r="6"/><text>17639</text></g>
<g id="m18_25" transform="translate(793 838)"><circle r="6"/><text>9140</text></g>
<g id="m18_26" transform="translate(886 838)"><circle r="6"/><text>4115</text></g>
<g id="m18_27" transform="translate(970 838)"><circle r="6"/><text>75547</text></g>
<g id="m18_28" transform="translate(982 838)"><circle r="6"/><text>64229</text></g>
<g id="m18_29" transform="translate(1020 838)"><circle r="6"/><text>17212</text></g>
<g id="m18_30" transform="translate(1134 838)"><circle r="6"/><text>126445</text></g>
<g id="m18_31" transform="translate(1146 838)"><circle r="6"/><text>58290</text></g>
<g id="m18_32" transform="translate(1157 838)"><circle r="6"/><text>116077</text></g>
<g id="m18_33" transform="translate(1173 838)"><circle r="6"/><text>72786</text></g>
<g id="m18_34" transform="translate(1184 838)"><circle r="6"/><text>75875</text></g>
<g id="m18_35" transform="translate(1213 838)"><circle r="6"/><text>64904</text></g>
<g id="m18_36" transform="translate(1222 838)"><circle r="6"/><text>80777</text></g>
<g id="m18_37" transform="translate(1270 838)"><circle r="6"/><text>161737</text></g>
<g id="m18_38" transform="translate(1295 838)"><circle r="6"/><text>42701</text></g>
<g id="m18_39" transform="translate(1306 838)"><circle r="6"/><text>143762</text></g>
<g id="m18_40" transform="translate(1327 838)"><circle r="6"/><text>117886</text></g>
<g id="m18_41" transform="translate(1338 838)"><circle r="6"/><text>59844</text></g>
<g id="m18_42" transform="translate(1348 838)"><circle r="6"/><text>60593</text></g>
<g id="m18_43" transform="translate(1359 838)"><circle r="6"/><text>75036</text></g>
<g id="m19_1" transform="translate(206 866)"><circle r="6"/><text>64286</text></g>
<g id="m19_2" transform="translate(217 866)"><circle r="6"/><text>67928</text></g>
<g id="m19_3" transform="translate(270 866)"><circle r="6"/><text>139586</text></g>
<g id="m19_4" transform="translate(321 866)"><circle r="6"/><text>90472</text></g>
<g id="m19_5" transform="translate(338 866)"><circle r="6"/><text>17823</text></g>
<g id="m19_6" transform="translate(348 866)"><circle r="6"/><text>7893</text></g>
<g id="m19_7" transform="translate(359 866)"><circle r="6"/><text>80451</text></g>
<g id="m19_8" transform="translate(399 866)"><circle r="6"/><text>138362</text></g>
<g id="m19_9" transform="translate(467 866)"><circle r="6"/><text>108936</text></g>
<g id="m19_10" transform="translate(478 866)"><circle r="6"/><text>96788</text></g>
<g id="m19_11" transform="translate(489 866)"><circle r="6"/><text>103733</text></g>
<g id="m19_12" transform="translate(500 866)"><circle r="6"/><text>11569</text></g>
<g id="m19_13" transform="translate(510 866)"><circle r="6"/><text>95310</text></g>
<g id="m19_14" transform="translate(521 866)"><circle r="6"/><text>79449</text></g>
<g id="m19_15" transform="translate(532 866)"><circle r="6"/><text>1998</text></g>
<g id="m19_16" transform="translate(543 866)"><circle r="6"/><text>48460</text></g>
<g id="m19_17" transform="translate(554 866)"><circle r="6"/><text>93396</text></g>
<g id="m19_18" transform="translate(573 866)"><circle r="6"/><text>6826</text></g>
<g id="m19_19" transform="translate(584 866)"><circle r="6"/><text>23880</text></g>
<g id="m19_20" transform="translate(608 866)"><circle r="6"/><text>11871</text></g>
<g id="m19_21" transform="translate(622 866)"><circle r="6"/><text>67305</text></g>
<g id="m19_22" transform="translate(630 866)"><circle r="6"/><text>95260</text></g>
<g id="m19_23" transform="translate(645 866)"><circle r="6"/><text>139966</text></g>
<g id="m19_24" transform="translate(657 866)"><circle r="6"/><text>8862</text></g>
<g id="m19_25" transform="translate(667 866)"><circle r="6"/><text>76923</text></g>
<g id="m19_26" transform="translate(673 866)"><circle r="6"/><text>12095</text></g>
<g id="m19_27" transform="translate(683 866)"><circle r="6"/><text>97521</text></g>
<g id="m19_28" transform="translate(745 866)"><circle r="6"/><text>118592</text></g>
<g id="m19_29" transform="translate(767 866)"><circle r="6"/><text>25947</text></g>
<g id="m19_30" transform="translate(788 866)"><circle r="6"/><text>12091</text></g>
<g id="m19_31" transform="translate(799 866)"><circle r="6"/><text>73988</text></g>
<g id="m19_32" transform="translate(880 866)"><circle r="6"/><text>75023</text></g>
<g id="m19_33" transform="translate(891 866)"><circle r="6"/><text>56728</text></g>
<g id="m19_34" transform="translate(904 866)"><circle r="6"/><text>76181</text></g>
<g id="m19_35" transform="translate(1020 866)"><circle r="6"/><text>17255</text></g>
<g id="m19_36" transform="translate(1037 866)"><circle r="6"/><text>22013</text></g>
<g id="m19_37" transform="translate(1135 866)"><circle r="6"/><text>112717</text></g>
<g id="m19_38" transform="translate(1184 866)"><circle r="6"/><text>18238</text></g>
<g id="m19_39" transform="translate(1193 866)"><circle r="6"/><text>22396</text></g>
<g id="m19_40" transform="translate(1204 866)"><circle r="6"/><text>72574</text></g>
<g id="m19_41" transform="translate(1215 866)"><circle r="6"/><text>163046</text></g>
<g id="m19_42" transform="translate(1253 866)"><circle r="6"/><text>73635</text></g>
<g id="m19_43" transform="translate(1263 866)"><circle r="6"/><text>78396</text></g>
<g id="m19_44" transform="translate(1290 866)"><circle r="6"/><text>5613</text></g>
<g id="m19_45" transform="translate(1301 866)"><circle r="6"/><text>194092</text></g>
<g id="m19_46" transform="translate(1321 866)"><circle r="6"/><text>163738</text></g>
<g id="m19_47" transform="translate(1332 866)"><circle r="6"/><text>162634</text></g>
<g id="m19_48" transform="translate(1343 866)"><circle r="6"/><text>8092</text></g>
<g id="m19_49" transform="translate(1354 866)"><circle r="6"/><text>62719</text></g>
<g id="m20_1" transform="translate(206 895)"><circle r="6"/><text>76672</text></g>
<g id="m20_2" transform="translate(222 895)"><circle r="6"/><text>4891</text></g>
<g id="m20_3" transform="translate(283 895)"><circle r="6"/><text>162757</text></g>
<g id="m20_4" transform="translate(305 895)"><circle r="6"/><text>118657</text></g>
<g id="m20_5" transform="translate(316 895)"><circle r="6"/><text>3658</text></g>
<g id="m20_6" transform="translate(327 895)"><circle r="6"/><text>153623</text></g>
<g id="m20_7" transform="translate(338 895)"><circle r="6"/><text>21750</text></g>
<g id="m20_8" transform="translate(348 895)"><circle r="6"/><text>107295</text></g>
<g id="m20_9" transform="translate(359 895)"><circle r="6"/><text>17654</text></g>
<g id="m20_10" transform="translate(370 895)"><circle r="6"/><text>123690</text></g>
<g id="m20_11" transform="translate(381 895)"><circle r="6"/><text>193917</text></g>
<g id="m20_12" transform="translate(417 895)"><circle r="6"/><text>108271</text></g>
<g id="m20_13" transform="translate(467 895)"><circle r="6"/><text>16760</text></g>
<g id="m20_14" transform="translate(521 895)"><circle r="6"/><text>134697</text></g>
<g id="m20_15" transform="translate(532 895)"><circle r="6"/><text>78824</text></g>
<g id="m20_16" transform="translate(543 895)"><circle r="6"/><text>1136</text></g>
<g id="m20_17" transform="translate(554 895)"><circle r="6"/><text>173826</text></g>
<g id="m20_18" transform="translate(570 895)"><circle r="6"/><text>63008</text></g>
<g id="m20_19" transform="translate(587 895)"><circle r="6"/><text>135826</text></g>
<g id="m20_20" transform="translate(597 895)"><circle r="6"/><text>63495</text></g>
<g id="m20_21" transform="translate(608 895)"><circle r="6"/><text>3297</text></g>
<g id="m20_22" transform="translate(619 895)"><circle r="6"/><text>64784</text></g>
<g id="m20_23" transform="translate(630 895)"><circle r="6"/><text>16738</text></g>
<g id="m20_24" transform="translate(641 895)"><circle r="6"/><text>14237</text></g>
<g id="m20_25" transform="translate(653 895)"><circle r="6"/><text>2157</text></g>
<g id="m20_26" transform="translate(667 895)"><circle r="6"/><text>22068</text></g>
<g id="m20_27" transform="translate(677 895)"><circle r="6"/><text>12960</text></g>
<g id="m20_28" transform="translate(731 895)"><circle r="6"/><text>77813</text></g>
<g id="m20_29" transform="translate(747 895)"><circle r="6"/><text>105261</text></g>
<g id="m20_30" transform="translate(758 895)"><circle r="6"/><text>118140</text></g>
<g id="m20_31" transform="translate(783 895)"><circle r="6"/><text>1844</text></g>
<g id="m20_32" transform="translate(794 895)"><circle r="6"/><text>113887</text></g>
<g id="m20_33" transform="translate(836 895)"><circle r="6"/><text>1276</text></g>
<g id="m20_34" transform="translate(899 895)"><circle r="6"/><text>8750</text></g>
<g id="m20_35" transform="translate(910 895)"><circle r="6"/><text>78256</text></g>
<g id="m20_36" transform="translate(925 895)"><circle r="6"/><text>99752</text></g>
<g id="m20_37" transform="translate(996 895)"><circle r="6"/><text>73836</text></g>
<g id="m20_38" transform="translate(1009 895)"><circle r="6"/><text>1726</text></g>
<g id="m20_39" transform="translate(1043 895)"><circle r="6"/><text>79239</text></g>
<g id="m20_40" transform="translate(1063 895)"><circle r="6"/><text>79112</text></g>
<g id="m20_41" transform="translate(1134 895)"><circle r="6"/><text>174488</text></g>
<g id="m20_42" transform="translate(1145 895)"><circle r="6"/><text>13709</text></g>
<g id="m20_43" transform="translate(1184 895)"><circle r="6"/><text>64842</text></g>
<g id="m20_44" transform="translate(1210 895)"><circle r="6"/><text>28666</text></g>
<g id="m20_45" transform="translate(1221 895)"><circle r="6"/><text>11269</text></g>
<g id="m20_46" transform="translate(1241 895)"><circle r="6"/><text>79470</text></g>
<g id="m20_47" transform="translate(1252 895)"><circle r="6"/><text>14276</text></g>
<g id="m20_48" transform="translate(1263 895)"><circle r="6"/><text>86792</text></g>
<g id="m20_49" transform="translate(1273 895)"><circle r="6"/><text>72989</text></g>
<g id="m20_50" transform="translate(1285 895)"><circle r="6"/><text>85479</text></g>
<g id="m20_51" transform="translate(1297 895)"><circle r="6"/><text>79640</text></g>
<g id="m20_52" transform="translate(1310 895)"><circle r="6"/><text>72753</text></g>
<g id="m20_53" transform="translate(1321 895)"><circle r="6"/><text>147191</text></g>
<g id="m20_54" transform="translate(1332 895)"><circle r="6"/><text>63228</text></g>
<g id="m20_55" transform="translate(1343 895)"><circle r="6"/><text>150902</text></g>
<g id="m20_56" transform="translate(1354 895)"><circle r="6"/><text>78275</text></g>
<g id="h20_1" transform="translate(542 909)"><circle r="6"/><text>102876</text></g>
<g id="h20_2" transform="translate(569 909)"><circle r="6"/><text>172315</text></g>
<g id="m21_1" transform="translate(200 923)"><circle r="6"/><text>70308</text></g>
<g id="m21_2" transform="translate(211 923)"><circle r="6"/><text>153297</text></g>
<g id="m21_3" transform="translate(222 923)"><circle r="6"/><text>81070</text></g>
<g id="m21_4" transform="translate(272 923)"><circle r="6"/><text>18267</text></g>
<g id="m21_5" transform="translate(283 923)"><circle r="6"/><text>175738</text></g>
<g id="m21_6" transform="translate(294 923)"><circle r="6"/><text>129828</text></g>
<g id="m21_7" transform="translate(305 923)"><circle r="6"/><text>17769</text></g>
<g id="m21_8" transform="translate(316 923)"><circle r="6"/><text>33701</text></g>
<g id="m21_9" transform="translate(370 923)"><circle r="6"/><text>29757</text></g>
<g id="m21_10" transform="translate(381 923)"><circle r="6"/><text>16244</text></g>
<g id="m21_11" transform="translate(392 923)"><circle r="6"/><text>76038</text></g>
<g id="m21_12" transform="translate(402 923)"><circle r="6"/><text>106413</text></g>
<g id="m21_13" transform="translate(419 923)"><circle r="6"/><text>102781</text></g>
<g id="m21_14" transform="translate(430 923)"><circle r="6"/><text>11792</text></g>
<g id="m21_15" transform="translate(462 923)"><circle r="6"/><text>96241</text></g>
<g id="m21_16" transform="translate(473 923)"><circle r="6"/><text>15127</text></g>
<g id="m21_17" transform="translate(516 923)"><circle r="6"/><text>1762</text></g>
<g id="m21_18" transform="translate(527 923)"><circle r="6"/><text>103841</text></g>
<g id="m21_19" transform="translate(537 923)"><circle r="6"/><text>1108</text></g>
<g id="m21_20" transform="translate(548 923)"><circle r="6"/><text>150278</text></g>
<g id="m21_21" transform="translate(564 923)"><circle r="6"/><text>75776</text></g>
<g id="m21_22" transform="translate(575 923)"><circle r="6"/><text>10259</text></g>
<g id="m21_23" transform="translate(586 923)"><circle r="6"/><text>12958</text></g>
<g id="m21_24" transform="translate(597 923)"><circle r="6"/><text>10590</text></g>
<g id="m21_25" transform="translate(608 923)"><circle r="6"/><text>66411</text></g>
<g id="m21_26" transform="translate(633 923)"><circle r="6"/><text>166948</text></g>
<g id="m21_27" transform="translate(645 923)"><circle r="6"/><text>91265</text></g>
<g id="m21_28" transform="translate(657 923)"><circle r="6"/><text>63022</text></g>
<g id="m21_29" transform="translate(667 923)"><circle r="6"/><text>145822</text></g>
<g id="m21_30" transform="translate(677 923)"><circle r="6"/><text>9337</text></g>
<g id="m21_31" transform="translate(731 923)"><circle r="6"/><text>135948</text></g>
<g id="m21_32" transform="translate(742 923)"><circle r="6"/><text>71209</text></g>
<g id="m21_33" transform="translate(752 923)"><circle r="6"/><text>92598</text></g>
<g id="m21_34" transform="translate(783 923)"><circle r="6"/><text>87252</text></g>
<g id="m21_35" transform="translate(793 923)"><circle r="6"/><text>17181</text></g>
<g id="m21_36" transform="translate(804 923)"><circle r="6"/><text>102795</text></g>
<g id="m21_37" transform="translate(832 923)"><circle r="6"/><text>11205</text></g>
<g id="m21_38" transform="translate(872 923)"><circle r="6"/><text>67572</text></g>
<g id="m21_39" transform="translate(899 923)"><circle r="6"/><text>10605</text></g>
<g id="m21_40" transform="translate(910 923)"><circle r="6"/><text>1832</text></g>
<g id="m21_41" transform="translate(925 923)"><circle r="6"/><text>6185</text></g>
<g id="m21_42" transform="translate(959 923)"><circle r="6"/><text>72981</text></g>
<g id="m21_43" transform="translate(977 923)"><circle r="6"/><text>138276</text></g>
<g id="m21_44" transform="translate(1020 923)"><circle r="6"/><text>190947</text></g>
<g id="m21_45" transform="translate(1033 923)"><circle r="6"/><text>20752</text></g>
<g id="m21_46" transform="translate(1044 923)"><circle r="6"/><text>111982</text></g>
<g id="m21_47" transform="translate(1063 923)"><circle r="6"/><text>28419</text></g>
<g id="m21_48" transform="translate(1119 923)"><circle r="6"/><text>77230</text></g>
<g id="m21_49" transform="translate(1143 923)"><circle r="6"/><text>149613</text></g>
<g id="m21_50" transform="translate(1151 923)"><circle r="6"/><text>96471</text></g>
<g id="m21_51" transform="translate(1166 923)"><circle r="6"/><text>97637</text></g>
<g id="m21_52" transform="translate(1188 923)"><circle r="6"/><text>178574</text></g>
<g id="m21_53" transform="translate(1199 923)"><circle r="6"/><text>107192</text></g>
<g id="m21_54" transform="translate(1210 923)"><circle r="6"/><text>91284</text></g>
<g id="m21_55" transform="translate(1241 923)"><circle r="6"/><text>76734</text></g>
<g id="m21_56" transform="translate(1252 923)"><circle r="6"/><text>10785</text></g>
<g id="m21_57" transform="translate(1258 923)"><circle r="6"/><text>29680</text></g>
<g id="m21_58" transform="translate(1275 923)"><circle r="6"/><text>170790</text></g>
<g id="m21_59" transform="translate(1286 923)"><circle r="6"/><text>173094</text></g>
<g id="m21_60" transform="translate(1296 923)"><circle r="6"/><text>70588</text></g>
<g id="m21_61" transform="translate(1302 923)"><circle r="6"/><text>13276</text></g>
<g id="m21_62" transform="translate(1332 923)"><circle r="6"/><text>64798</text></g>
<g id="m21_63" transform="translate(1343 923)"><circle r="6"/><text>93253</text></g>
<g id="m21_64" transform="translate(1354 923)"><circle r="6"/><text>195762</text></g>
<g id="m21_65" transform="translate(1365 923)"><circle r="6"/><text>72251</text></g>
<g id="h21_1" transform="translate(554 937)"><circle r="6"/><text>160761</text></g>
<g id="h21_2" transform="translate(1031 937)"><circle r="6"/><text>34238</text></g>
<g id="m22_1" transform="translate(193 952)"><circle r="6"/><text>160952</text></g>
<g id="m22_2" transform="translate(251 952)"><circle r="6"/><text>26679</text></g>
<g id="m22_3" transform="translate(262 952)"><circle r="6"/><text>16815</text></g>
<g id="m22_4" transform="translate(273 952)"><circle r="6"/><text>173948</text></g>
<g id="m22_5" transform="translate(283 952)"><circle r="6"/><text>106260</text></g>
<g id="m22_6" transform="translate(316 952)"><circle r="6"/><text>13495</text></g>
<g id="m22_7" transform="translate(370 952)"><circle r="6"/><text>64470</text></g>
<g id="m22_8" transform="translate(402 952)"><circle r="6"/><text>21837</text></g>
<g id="m22_9" transform="translate(419 952)"><circle r="6"/><text>32396</text></g>
<g id="m22_10" transform="translate(442 952)"><circle r="6"/><text>95528</text></g>
<g id="m22_11" transform="translate(482 952)"><circle r="6"/><text>78136</text></g>
<g id="m22_12" transform="translate(516 952)"><circle r="6"/><text>3104</text></g>
<g id="m22_13" transform="translate(527 952)"><circle r="6"/><text>65711</text></g>
<g id="m22_14" transform="translate(537 952)"><circle r="6"/><text>21776</text></g>
<g id="m22_15" transform="translate(547 952)"><circle r="6"/><text>15527</text></g>
<g id="m22_16" transform="translate(558 952)"><circle r="6"/><text>21916</text></g>
<g id="m22_17" transform="translate(575 952)"><circle r="6"/><text>85837</text></g>
<g id="m22_18" transform="translate(586 952)"><circle r="6"/><text>11073</text></g>
<g id="m22_19" transform="translate(597 952)"><circle r="6"/><text>16313</text></g>
<g id="m22_20" transform="translate(608 952)"><circle r="6"/><text>10376</text></g>
<g id="m22_21" transform="translate(622 952)"><circle r="6"/><text>114849</text></g>
<g id="m22_22" transform="translate(645 952)"><circle r="6"/><text>16406</text></g>
<g id="m22_23" transform="translate(657 952)"><circle r="6"/><text>25176</text></g>
<g id="m22_24" transform="translate(667 952)"><circle r="6"/><text>13994</text></g>
<g id="m22_25" transform="translate(673 952)"><circle r="6"/><text>12796</text></g>
<g id="m22_26" transform="translate(711 952)"><circle r="6"/><text>71295</text></g>
<g id="m22_27" transform="translate(738 952)"><circle r="6"/><text>16767</text></g>
<g id="m22_28" transform="translate(776 952)"><circle r="6"/><text>18066</text></g>
<g id="m22_29" transform="translate(799 952)"><circle r="6"/><text>87413</text></g>
<g id="m22_30" transform="translate(810 952)"><circle r="6"/><text>15010</text></g>
<g id="m22_31" transform="translate(821 952)"><circle r="6"/><text>13028</text></g>
<g id="m22_32" transform="translate(832 952)"><circle r="6"/><text>86439</text></g>
<g id="m22_33" transform="translate(842 952)"><circle r="6"/><text>11958</text></g>
<g id="m22_34" transform="translate(872 952)"><circle r="6"/><text>9857</text></g>
<g id="m22_35" transform="translate(910 952)"><circle r="6"/><text>15794</text></g>
<g id="m22_36" transform="translate(925 952)"><circle r="6"/><text>87259</text></g>
<g id="m22_37" transform="translate(958 952)"><circle r="6"/><text>66076</text></g>
<g id="m22_38" transform="translate(969 952)"><circle r="6"/><text>83491</text></g>
<g id="m22_39" transform="translate(999 952)"><circle r="6"/><text>63006</text></g>
<g id="m22_40" transform="translate(1022 952)"><circle r="6"/><text>35178</text></g>
<g id="m22_41" transform="translate(1058 952)"><circle r="6"/><text>12820</text></g>
<g id="m22_42" transform="translate(1069 952)"><circle r="6"/><text>112116</text></g>
<g id="m22_43" transform="translate(1103 952)"><circle r="6"/><text>17491</text></g>
<g id="m22_44" transform="translate(1123 952)"><circle r="6"/><text>74076</text></g>
<g id="m22_45" transform="translate(1133 952)"><circle r="6"/><text>163721</text></g>
<g id="m22_46" transform="translate(1144 952)"><circle r="6"/><text>10283</text></g>
<g id="m22_47" transform="translate(1155 952)"><circle r="6"/><text>129810</text></g>
<g id="m22_48" transform="translate(1166 952)"><circle r="6"/><text>13813</text></g>
<g id="m22_49" transform="translate(1183 952)"><circle r="6"/><text>15990</text></g>
<g id="m22_50" transform="translate(1193 952)"><circle r="6"/><text>94408</text></g>
<g id="m22_51" transform="translate(1204 952)"><circle r="6"/><text>15975</text></g>
<g id="m22_52" transform="translate(1215 952)"><circle r="6"/><text>167910</text></g>
<g id="m22_53" transform="translate(1237 952)"><circle r="6"/><text>17046</text></g>
<g id="m22_54" transform="translate(1248 952)"><circle r="6"/><text>12998</text></g>
<g id="m22_55" transform="translate(1258 952)"><circle r="6"/><text>91297</text></g>
<g id="m22_56" transform="translate(1270 952)"><circle r="6"/><text>101862</text></g>
<g id="m22_57" transform="translate(1280 952)"><circle r="6"/><text>131268</text></g>
<g id="m22_58" transform="translate(1291 952)"><circle r="6"/><text>166034</text></g>
<g id="m22_59" transform="translate(1302 952)"><circle r="6"/><text>10728</text></g>
<g id="m22_60" transform="translate(1327 952)"><circle r="6"/><text>41537</text></g>
<g id="m22_61" transform="translate(1338 952)"><circle r="6"/><text>19734</text></g>
<g id="m22_62" transform="translate(1353 952)"><circle r="6"/><text>116758</text></g>
<g id="m22_63" transform="translate(1376 952)"><circle r="6"/><text>127725</text></g>
<g id="h22_1" transform="translate(548 966)"><circle r="6"/><text>132558</text></g>
<g id="h22_2" transform="translate(559 966)"><circle r="6"/><text>94946</text></g>
<g id="h22_3" transform="translate(1269 966)"><circle r="6"/><text>15763</text></g>
<g id="m23_1" transform="translate(175 981)"><circle r="6"/><text>90092</text></g>
<g id="m23_2" transform="translate(211 981)"><circle r="6"/><text>81641</text></g>
<g id="m23_3" transform="translate(251 981)"><circle r="6"/><text>16721</text></g>
<g id="m23_4" transform="translate(283 981)"><circle r="6"/><text>116247</text></g>
<g id="m23_5" transform="translate(311 981)"><circle r="6"/><text>15104</text></g>
<g id="m23_6" transform="translate(321 981)"><circle r="6"/><text>73937</text></g>
<g id="m23_7" transform="translate(397 981)"><circle r="6"/><text>180738</text></g>
<g id="m23_8" transform="translate(408 981)"><circle r="6"/><text>13927</text></g>
<g id="m23_9" transform="translate(419 981)"><circle r="6"/><text>12751</text></g>
<g id="m23_10" transform="translate(442 981)"><circle r="6"/><text>102937</text></g>
<g id="m23_11" transform="translate(482 981)"><circle r="6"/><text>162728</text></g>
<g id="m23_12" transform="translate(527 981)"><circle r="6"/><text>3659</text></g>
<g id="m23_13" transform="translate(537 981)"><circle r="6"/><text>174519</text></g>
<g id="m23_14" transform="translate(548 981)"><circle r="6"/><text>13609</text></g>
<g id="m23_15" transform="translate(559 981)"><circle r="6"/><text>69450</text></g>
<g id="m23_16" transform="translate(586 981)"><circle r="6"/><text>12963</text></g>
<g id="m23_17" transform="translate(597 981)"><circle r="6"/><text>8728</text></g>
<g id="m23_18" transform="translate(608 981)"><circle r="6"/><text>19443</text></g>
<g id="m23_19" transform="translate(624 981)"><circle r="6"/><text>84766</text></g>
<g id="m23_20" transform="translate(635 981)"><circle r="6"/><text>7681</text></g>
<g id="m23_21" transform="translate(646 981)"><circle r="6"/><text>13970</text></g>
<g id="m23_22" transform="translate(667 981)"><circle r="6"/><text>14840</text></g>
<g id="m23_23" transform="translate(674 981)"><circle r="6"/><text>12502</text></g>
<g id="m23_24" transform="translate(711 981)"><circle r="6"/><text>11479</text></g>
<g id="m23_25" transform="translate(727 981)"><circle r="6"/><text>122964</text></g>
<g id="m23_26" transform="translate(748 981)"><circle r="6"/><text>20876</text></g>
<g id="m23_27" transform="translate(770 981)"><circle r="6"/><text>128785</text></g>
<g id="m23_28" transform="translate(781 981)"><circle r="6"/><text>160765</text></g>
<g id="m23_29" transform="translate(832 981)"><circle r="6"/><text>18777</text></g>
<g id="m23_30" transform="translate(864 981)"><circle r="6"/><text>150872</text></g>
<g id="m23_31" transform="translate(880 981)"><circle r="6"/><text>144766</text></g>
<g id="m23_32" transform="translate(905 981)"><circle r="6"/><text>18071</text></g>
<g id="m23_33" transform="translate(922 981)"><circle r="6"/><text>53773</text></g>
<g id="m23_34" transform="translate(945 981)"><circle r="6"/><text>38743</text></g>
<g id="m23_35" transform="translate(961 981)"><circle r="6"/><text>110</text></g>
<g id="m23_36" transform="translate(977 981)"><circle r="6"/><text>10475</text></g>
<g id="m23_37" transform="translate(988 981)"><circle r="6"/><text>15436</text></g>
<g id="m23_38" transform="translate(999 981)"><circle r="6"/><text>71058</text></g>
<g id="m23_39" transform="translate(1010 981)"><circle r="6"/><text>10040</text></g>
<g id="m23_40" transform="translate(1031 981)"><circle r="6"/><text>46749</text></g>
<g id="m23_41" transform="translate(1058 981)"><circle r="6"/><text>18983</text></g>
<g id="m23_42" transform="translate(1069 981)"><circle r="6"/><text>165109</text></g>
<g id="m23_43" transform="translate(1080 981)"><circle r="6"/><text>10961</text></g>
<g id="m23_44" transform="translate(1092 981)"><circle r="6"/><text>18388</text></g>
<g id="m23_45" transform="translate(1097 981)"><circle r="6"/><text>63191</text></g>
<g id="m23_46" transform="translate(1107 981)"><circle r="6"/><text>164914</text></g>
<g id="m23_47" transform="translate(1118 981)"><circle r="6"/><text>113697</text></g>
<g id="m23_48" transform="translate(1123 981)"><circle r="6"/><text>56101</text></g>
<g id="m23_49" transform="translate(1144 981)"><circle r="6"/><text>142394</text></g>
<g id="m23_50" transform="translate(1161 981)"><circle r="6"/><text>45278</text></g>
<g id="m23_51" transform="translate(1172 981)"><circle r="6"/><text>120578</text></g>
<g id="m23_52" transform="translate(1183 981)"><circle r="6"/><text>11390</text></g>
<g id="m23_53" transform="translate(1215 981)"><circle r="6"/><text>104296</text></g>
<g id="m23_54" transform="translate(1226 981)"><circle r="6"/><text>70327</text></g>
<g id="m23_55" transform="translate(1237 981)"><circle r="6"/><text>53901</text></g>
<g id="m23_56" transform="translate(1248 981)"><circle r="6"/><text>135013</text></g>
<g id="m23_57" transform="translate(1266 981)"><circle r="6"/><text>66813</text></g>
<g id="m23_58" transform="translate(1277 981)"><circle r="6"/><text>64793</text></g>
<g id="m23_59" transform="translate(1292 981)"><circle r="6"/><text>27418</text></g>
<g id="m23_60" transform="translate(1303 981)"><circle r="6"/><text>10494</text></g>
<g id="m23_61" transform="translate(1343 981)"><circle r="6"/><text>19627</text></g>
<g id="m23_62" transform="translate(1354 981)"><circle r="6"/><text>104709</text></g>
<g id="m23_63" transform="translate(1365 981)"><circle r="6"/><text>146968</text></g>
<g id="m23_64" transform="translate(1376 981)"><circle r="6"/><text>192778</text></g>
<g id="h23_1" transform="translate(961 994)"><circle r="6"/><text>34982</text></g>
<g id="h23_2" transform="translate(1058 994)"><circle r="6"/><text>58312</text></g>
<g id="h23_3" transform="translate(1291 994)"><circle r="6"/><text>6283</text></g>
<g id="h23_4" transform="translate(1302 994)"><circle r="6"/><text>77184</text></g>
<g id="m24_1" transform="translate(162 1009)"><circle r="6"/><text>108036</text></g>
<g id="m24_2" transform="translate(173 1009)"><circle r="6"/><text>105893</text></g>
<g id="m24_3" transform="translate(189 1009)"><circle r="6"/><text>85129</text></g>
<g id="m24_4" transform="translate(206 1009)"><circle r="6"/><text>17928</text></g>
<g id="m24_5" transform="translate(217 1009)"><circle r="6"/><text>85030</text></g>
<g id="m24_6" transform="translate(246 1009)"><circle r="6"/><text>19437</text></g>
<g id="m24_7" transform="translate(256 1009)"><circle r="6"/><text>34377</text></g>
<g id="m24_8" transform="translate(283 1009)"><circle r="6"/><text>157258</text></g>
<g id="m24_9" transform="translate(300 1009)"><circle r="6"/><text>100718</text></g>
<g id="m24_10" transform="translate(321 1009)"><circle r="6"/><text>79626</text></g>
<g id="m24_11" transform="translate(419 1009)"><circle r="6"/><text>13216</text></g>
<g id="m24_12" transform="translate(430 1009)"><circle r="6"/><text>103541</text></g>
<g id="m24_13" transform="translate(453 1009)"><circle r="6"/><text>15826</text></g>
<g id="m24_14" transform="translate(468 1009)"><circle r="6"/><text>162947</text></g>
<g id="m24_15" transform="translate(479 1009)"><circle r="6"/><text>55216</text></g>
<g id="m24_16" transform="translate(496 1009)"><circle r="6"/><text>64078</text></g>
<g id="m24_17" transform="translate(533 1009)"><circle r="6"/><text>51983</text></g>
<g id="m24_18" transform="translate(538 1009)"><circle r="6"/><text>67254</text></g>
<g id="m24_19" transform="translate(548 1009)"><circle r="6"/><text>14004</text></g>
<g id="m24_20" transform="translate(559 1009)"><circle r="6"/><text>95248</text></g>
<g id="m24_21" transform="translate(566 1009)"><circle r="6"/><text>11779</text></g>
<g id="m24_22" transform="translate(576 1009)"><circle r="6"/><text>11240</text></g>
<g id="m24_23" transform="translate(587 1009)"><circle r="6"/><text>71890</text></g>
<g id="m24_24" transform="translate(603 1009)"><circle r="6"/><text>17996</text></g>
<g id="m24_25" transform="translate(614 1009)"><circle r="6"/><text>38854</text></g>
<g id="m24_26" transform="translate(624 1009)"><circle r="6"/><text>1424</text></g>
<g id="m24_27" transform="translate(640 1009)"><circle r="6"/><text>103935</text></g>
<g id="m24_28" transform="translate(675 1009)"><circle r="6"/><text>16808</text></g>
<g id="m24_29" transform="translate(685 1009)"><circle r="6"/><text>57852</text></g>
<g id="m24_30" transform="translate(704 1009)"><circle r="6"/><text>12049</text></g>
<g id="m24_31" transform="translate(716 1009)"><circle r="6"/><text>58290</text></g>
<g id="m24_32" transform="translate(727 1009)"><circle r="6"/><text>168740</text></g>
<g id="m24_33" transform="translate(748 1009)"><circle r="6"/><text>121031</text></g>
<g id="m24_34" transform="translate(770 1009)"><circle r="6"/><text>161090</text></g>
<g id="m24_35" transform="translate(832 1009)"><circle r="6"/><text>17767</text></g>
<g id="m24_36" transform="translate(858 1009)"><circle r="6"/><text>12945</text></g>
<g id="m24_37" transform="translate(869 1009)"><circle r="6"/><text>84528</text></g>
<g id="m24_38" transform="translate(880 1009)"><circle r="6"/><text>1560</text></g>
<g id="m24_39" transform="translate(892 1009)"><circle r="6"/><text>89728</text></g>
<g id="m24_40" transform="translate(902 1009)"><circle r="6"/><text>133240</text></g>
<g id="m24_41" transform="translate(921 1009)"><circle r="6"/><text>67052</text></g>
<g id="m24_42" transform="translate(940 1009)"><circle r="6"/><text>16811</text></g>
<g id="m24_43" transform="translate(950 1009)"><circle r="6"/><text>70119</text></g>
<g id="m24_44" transform="translate(961 1009)"><circle r="6"/><text>13853</text></g>
<g id="m24_45" transform="translate(972 1009)"><circle r="6"/><text>64519</text></g>
<g id="m24_46" transform="translate(983 1009)"><circle r="6"/><text>63221</text></g>
<g id="m24_47" transform="translate(993 1009)"><circle r="6"/><text>13776</text></g>
<g id="m24_48" transform="translate(1009 1009)"><circle r="6"/><text>162982</text></g>
<g id="m24_49" transform="translate(1031 1009)"><circle r="6"/><text>10846</text></g>
<g id="m24_50" transform="translate(1048 1009)"><circle r="6"/><text>98714</text></g>
<g id="m24_51" transform="translate(1059 1009)"><circle r="6"/><text>126390</text></g>
<g id="m24_52" transform="translate(1070 1009)"><circle r="6"/><text>83915</text></g>
<g id="m24_53" transform="translate(1081 1009)"><circle r="6"/><text>19870</text></g>
<g id="m24_54" transform="translate(1091 1009)"><circle r="6"/><text>8771</text></g>
<g id="m24_55" transform="translate(1102 1009)"><circle r="6"/><text>16272</text></g>
<g id="m24_56" transform="translate(1113 1009)"><circle r="6"/><text>97040</text></g>
<g id="m24_57" transform="translate(1119 1009)"><circle r="6"/><text>10297</text></g>
<g id="m24_58" transform="translate(1135 1009)"><circle r="6"/><text>149089</text></g>
<g id="m24_59" transform="translate(1154 1009)"><circle r="6"/><text>82765</text></g>
<g id="m24_60" transform="translate(1177 1009)"><circle r="6"/><text>154279</text></g>
<g id="m24_61" transform="translate(1188 1009)"><circle r="6"/><text>93063</text></g>
<g id="m24_62" transform="translate(1199 1009)"><circle r="6"/><text>13546</text></g>
<g id="m24_63" transform="translate(1215 1009)"><circle r="6"/><text>11478</text></g>
<g id="m24_64" transform="translate(1226 1009)"><circle r="6"/><text>72208</text></g>
<g id="m24_65" transform="translate(1248 1009)"><circle r="6"/><text>104103</text></g>
<g id="m24_66" transform="translate(1259 1009)"><circle r="6"/><text>49883</text></g>
<g id="m24_67" transform="translate(1270 1009)"><circle r="6"/><text>10791</text></g>
<g id="m24_68" transform="translate(1277 1009)"><circle r="6"/><text>3802</text></g>
<g id="m24_69" transform="translate(1292 1009)"><circle r="6"/><text>92540</text></g>
<g id="m24_70" transform="translate(1303 1009)"><circle r="6"/><text>14979</text></g>
<g id="m24_71" transform="translate(1343 1009)"><circle r="6"/><text>13296</text></g>
<g id="h24_1" transform="translate(921 1023)"><circle r="6"/><text>12734</text></g>
<g id="h24_2" transform="translate(950 1023)"><circle r="6"/><text>138776</text></g>
<g id="h24_3" transform="translate(972 1023)"><circle r="6"/><text>24317</text></g>
<g id="h24_4" transform="translate(1010 1023)"><circle r="6"/><text>16749</text></g>
<g id="h24_5" transform="translate(1058 1023)"><circle r="6"/><text>80791</text></g>
<g id="h24_6" transform="translate(1081 1023)"><circle r="6"/><text>87156</text></g>
<g id="h24_7" transform="translate(1091 1023)"><circle r="6"/><text>16513</text></g>
<g id="h24_8" transform="translate(1102 1023)"><circle r="6"/><text>10826</text></g>
<g id="h24_9" transform="translate(1134 1023)"><circle r="6"/><text>47570</text></g>
<g id="m25_1" transform="translate(162 1038)"><circle r="6"/><text>94771</text></g>
<g id="m25_2" transform="translate(173 1038)"><circle r="6"/><text>109509</text></g>
<g id="m25_3" transform="translate(184 1038)"><circle r="6"/><text>78244</text></g>
<g id="m25_4" transform="translate(195 1038)"><circle r="6"/><text>45259</text></g>
<g id="m25_5" transform="translate(206 1038)"><circle r="6"/><text>110070</text></g>
<g id="m25_6" transform="translate(217 1038)"><circle r="6"/><text>44685</text></g>
<g id="m25_7" transform="translate(246 1038)"><circle r="6"/><text>116599</text></g>
<g id="m25_8" transform="translate(294 1038)"><circle r="6"/><text>10892</text></g>
<g id="m25_9" transform="translate(305 1038)"><circle r="6"/><text>135928</text></g>
<g id="m25_10" transform="translate(316 1038)"><circle r="6"/><text>134756</text></g>
<g id="m25_11" transform="translate(327 1038)"><circle r="6"/><text>84895</text></g>
<g id="m25_12" transform="translate(430 1038)"><circle r="6"/><text>16615</text></g>
<g id="m25_13" transform="translate(448 1038)"><circle r="6"/><text>48610</text></g>
<g id="m25_14" transform="translate(459 1038)"><circle r="6"/><text>7672</text></g>
<g id="m25_15" transform="translate(480 1038)"><circle r="6"/><text>17660</text></g>
<g id="m25_16" transform="translate(496 1038)"><circle r="6"/><text>89440</text></g>
<g id="m25_17" transform="translate(533 1038)"><circle r="6"/><text>10883</text></g>
<g id="m25_18" transform="translate(543 1038)"><circle r="6"/><text>22770</text></g>
<g id="m25_19" transform="translate(559 1038)"><circle r="6"/><text>11466</text></g>
<g id="m25_20" transform="translate(570 1038)"><circle r="6"/><text>15578</text></g>
<g id="m25_21" transform="translate(597 1038)"><circle r="6"/><text>18471</text></g>
<g id="m25_22" transform="translate(608 1038)"><circle r="6"/><text>15720</text></g>
<g id="m25_23" transform="translate(634 1038)"><circle r="6"/><text>18975</text></g>
<g id="m25_24" transform="translate(645 1038)"><circle r="6"/><text>14714</text></g>
<g id="m25_25" transform="translate(657 1038)"><circle r="6"/><text>64587</text></g>
<g id="m25_26" transform="translate(678 1038)"><circle r="6"/><text>10827</text></g>
<g id="m25_27" transform="translate(689 1038)"><circle r="6"/><text>35219</text></g>
<g id="m25_28" transform="translate(700 1038)"><circle r="6"/><text>92362</text></g>
<g id="m25_29" transform="translate(711 1038)"><circle r="6"/><text>17459</text></g>
<g id="m25_30" transform="translate(727 1038)"><circle r="6"/><text>23528</text></g>
<g id="m25_31" transform="translate(738 1038)"><circle r="6"/><text>113770</text></g>
<g id="m25_32" transform="translate(758 1038)"><circle r="6"/><text>15946</text></g>
<g id="m25_33" transform="translate(770 1038)"><circle r="6"/><text>12772</text></g>
<g id="m25_34" transform="translate(821 1038)"><circle r="6"/><text>23467</text></g>
<g id="m25_35" transform="translate(832 1038)"><circle r="6"/><text>28335</text></g>
<g id="m25_36" transform="translate(843 1038)"><circle r="6"/><text>99768</text></g>
<g id="m25_37" transform="translate(853 1038)"><circle r="6"/><text>70150</text></g>
<g id="m25_38" transform="translate(864 1038)"><circle r="6"/><text>97430</text></g>
<g id="m25_39" transform="translate(880 1038)"><circle r="6"/><text>2881</text></g>
<g id="m25_40" transform="translate(891 1038)"><circle r="6"/><text>15208</text></g>
<g id="m25_41" transform="translate(903 1038)"><circle r="6"/><text>13495</text></g>
<g id="m25_42" transform="translate(913 1038)"><circle r="6"/><text>16257</text></g>
<g id="m25_43" transform="translate(923 1038)"><circle r="6"/><text>67712</text></g>
<g id="m25_44" transform="translate(933 1038)"><circle r="6"/><text>86372</text></g>
<g id="m25_45" transform="translate(940 1038)"><circle r="6"/><text>66948</text></g>
<g id="m25_46" transform="translate(950 1038)"><circle r="6"/><text>71826</text></g>
<g id="m25_47" transform="translate(972 1038)"><circle r="6"/><text>61027</text></g>
<g id="m25_48" transform="translate(988 1038)"><circle r="6"/><text>17451</text></g>
<g id="m25_49" transform="translate(999 1038)"><circle r="6"/><text>72836</text></g>
<g id="m25_50" transform="translate(1009 1038)"><circle r="6"/><text>17022</text></g>
<g id="m25_51" transform="translate(1020 1038)"><circle r="6"/><text>112398</text></g>
<g id="m25_52" transform="translate(1031 1038)"><circle r="6"/><text>49213</text></g>
<g id="m25_53" transform="translate(1043 1038)"><circle r="6"/><text>19044</text></g>
<g id="m25_54" transform="translate(1053 1038)"><circle r="6"/><text>51087</text></g>
<g id="m25_55" transform="translate(1064 1038)"><circle r="6"/><text>136692</text></g>
<g id="m25_56" transform="translate(1080 1038)"><circle r="6"/><text>16759</text></g>
<g id="m25_57" transform="translate(1092 1038)"><circle r="6"/><text>99137</text></g>
<g id="m25_58" transform="translate(1102 1038)"><circle r="6"/><text>18915</text></g>
<g id="m25_59" transform="translate(1112 1038)"><circle r="6"/><text>17727</text></g>
<g id="m25_60" transform="translate(1123 1038)"><circle r="6"/><text>8121</text></g>
<g id="m25_61" transform="translate(1134 1038)"><circle r="6"/><text>1724</text></g>
<g id="m25_62" transform="translate(1145 1038)"><circle r="6"/><text>91438</text></g>
<g id="m25_63" transform="translate(1162 1038)"><circle r="6"/><text>63092</text></g>
<g id="m25_64" transform="translate(1183 1038)"><circle r="6"/><text>103658</text></g>
<g id="m25_65" transform="translate(1188 1038)"><circle r="6"/><text>60712</text></g>
<g id="m25_66" transform="translate(1216 1038)"><circle r="6"/><text>45183</text></g>
<g id="m25_67" transform="translate(1248 1038)"><circle r="6"/><text>17958</text></g>
<g id="m25_68" transform="translate(1271 1038)"><circle r="6"/><text>5522</text></g>
<g id="m25_69" transform="translate(1282 1038)"><circle r="6"/><text>11062</text></g>
<g id="m25_70" transform="translate(1293 1038)"><circle r="6"/><text>37841</text></g>
<g id="m25_71" transform="translate(1303 1038)"><circle r="6"/><text>81262</text></g>
<g id="h25_1" transform="translate(950 1051)"><circle r="6"/><text>16640</text></g>
<g id="h25_2" transform="translate(972 1051)"><circle r="6"/><text>85128</text></g>
<g id="h25_3" transform="translate(988 1051)"><circle r="6"/><text>13704</text></g>
<g id="h25_4" transform="translate(1009 1051)"><circle r="6"/><text>74119</text></g>
<g id="h25_5" transform="translate(1053 1051)"><circle r="6"/><text>75812</text></g>
<g id="h25_6" transform="translate(1063 1051)"><circle r="6"/><text>19262</text></g>
<g id="h25_7" transform="translate(1101 1051)"><circle r="6"/><text>18463</text></g>
<g id="h25_8" transform="translate(1112 1051)"><circle r="6"/><text>60327</text></g>
<g id="m26_1" transform="translate(162 1066)"><circle r="6"/><text>137208</text></g>
<g id="m26_2" transform="translate(179 1066)"><circle r="6"/><text>39</text></g>
<g id="m26_3" transform="translate(189 1066)"><circle r="6"/><text>71157</text></g>
<g id="m26_4" transform="translate(206 1066)"><circle r="6"/><text>51734</text></g>
<g id="m26_5" transform="translate(217 1066)"><circle r="6"/><text>82742</text></g>
<g id="m26_6" transform="translate(233 1066)"><circle r="6"/><text>165709</text></g>
<g id="m26_7" transform="translate(244 1066)"><circle r="6"/><text>2784</text></g>
<g id="m26_8" transform="translate(260 1066)"><circle r="6"/><text>173751</text></g>
<g id="m26_9" transform="translate(305 1066)"><circle r="6"/><text>163703</text></g>
<g id="m26_10" transform="translate(430 1066)"><circle r="6"/><text>53427</text></g>
<g id="m26_11" transform="translate(459 1066)"><circle r="6"/><text>12774</text></g>
<g id="m26_12" transform="translate(480 1066)"><circle r="6"/><text>108265</text></g>
<g id="m26_13" transform="translate(491 1066)"><circle r="6"/><text>97316</text></g>
<g id="m26_14" transform="translate(502 1066)"><circle r="6"/><text>78143</text></g>
<g id="m26_15" transform="translate(533 1066)"><circle r="6"/><text>78427</text></g>
<g id="m26_16" transform="translate(559 1066)"><circle r="6"/><text>55189</text></g>
<g id="m26_17" transform="translate(570 1066)"><circle r="6"/><text>19706</text></g>
<g id="m26_18" transform="translate(581 1066)"><circle r="6"/><text>17388</text></g>
<g id="m26_19" transform="translate(587 1066)"><circle r="6"/><text>19298</text></g>
<g id="m26_20" transform="translate(597 1066)"><circle r="6"/><text>31695</text></g>
<g id="m26_21" transform="translate(608 1066)"><circle r="6"/><text>11103</text></g>
<g id="m26_22" transform="translate(634 1066)"><circle r="6"/><text>14957</text></g>
<g id="m26_23" transform="translate(651 1066)"><circle r="6"/><text>57630</text></g>
<g id="m26_24" transform="translate(662 1066)"><circle r="6"/><text>78226</text></g>
<g id="m26_25" transform="translate(673 1066)"><circle r="6"/><text>19481</text></g>
<g id="m26_26" transform="translate(684 1066)"><circle r="6"/><text>52118</text></g>
<g id="m26_27" transform="translate(738 1066)"><circle r="6"/><text>68456</text></g>
<g id="m26_28" transform="translate(748 1066)"><circle r="6"/><text>133770</text></g>
<g id="m26_29" transform="translate(759 1066)"><circle r="6"/><text>16427</text></g>
<g id="m26_30" transform="translate(770 1066)"><circle r="6"/><text>119318</text></g>
<g id="m26_31" transform="translate(853 1066)"><circle r="6"/><text>12618</text></g>
<g id="m26_32" transform="translate(901 1066)"><circle r="6"/><text>18430</text></g>
<g id="m26_33" transform="translate(910 1066)"><circle r="6"/><text>96772</text></g>
<g id="m26_34" transform="translate(920 1066)"><circle r="6"/><text>12587</text></g>
<g id="m26_35" transform="translate(930 1066)"><circle r="6"/><text>50371</text></g>
<g id="m26_36" transform="translate(944 1066)"><circle r="6"/><text>15283</text></g>
<g id="m26_37" transform="translate(955 1066)"><circle r="6"/><text>87911</text></g>
<g id="m26_38" transform="translate(966 1066)"><circle r="6"/><text>10296</text></g>
<g id="m26_39" transform="translate(977 1066)"><circle r="6"/><text>127841</text></g>
<g id="m26_40" transform="translate(988 1066)"><circle r="6"/><text>11537</text></g>
<g id="m26_41" transform="translate(1003 1066)"><circle r="6"/><text>88294</text></g>
<g id="m26_42" transform="translate(1014 1066)"><circle r="6"/><text>12163</text></g>
<g id="m26_43" transform="translate(1023 1066)"><circle r="6"/><text>17449</text></g>
<g id="m26_44" transform="translate(1032 1066)"><circle r="6"/><text>80127</text></g>
<g id="m26_45" transform="translate(1043 1066)"><circle r="6"/><text>19063</text></g>
<g id="m26_46" transform="translate(1053 1066)"><circle r="6"/><text>61947</text></g>
<g id="m26_47" transform="translate(1064 1066)"><circle r="6"/><text>10337</text></g>
<g id="m26_48" transform="translate(1107 1066)"><circle r="6"/><text>174312</text></g>
<g id="m26_49" transform="translate(1118 1066)"><circle r="6"/><text>15901</text></g>
<g id="m26_50" transform="translate(1129 1066)"><circle r="6"/><text>11894</text></g>
<g id="m26_51" transform="translate(1145 1066)"><circle r="6"/><text>16892</text></g>
<g id="m26_52" transform="translate(1156 1066)"><circle r="6"/><text>70455</text></g>
<g id="m26_53" transform="translate(1167 1066)"><circle r="6"/><text>15076</text></g>
<g id="m26_54" transform="translate(1177 1066)"><circle r="6"/><text>64281</text></g>
<g id="m26_55" transform="translate(1188 1066)"><circle r="6"/><text>32176</text></g>
<g id="m26_56" transform="translate(1199 1066)"><circle r="6"/><text>70389</text></g>
<g id="m26_57" transform="translate(1216 1066)"><circle r="6"/><text>171520</text></g>
<g id="m26_58" transform="translate(1232 1066)"><circle r="6"/><text>93077</text></g>
<g id="m26_59" transform="translate(1243 1066)"><circle r="6"/><text>75718</text></g>
<g id="m26_60" transform="translate(1254 1066)"><circle r="6"/><text>12619</text></g>
<g id="m26_61" transform="translate(1293 1066)"><circle r="6"/><text>17394</text></g>
<g id="h26_1" transform="translate(1032 1080)"><circle r="6"/><text>16261</text></g>
<g id="h26_2" transform="translate(1043 1080)"><circle r="6"/><text>73227</text></g>
<g id="h26_3" transform="translate(1107 1080)"><circle r="6"/><text>23940</text></g>
<g id="h26_4" transform="translate(1118 1080)"><circle r="6"/><text>19018</text></g>
<g id="m27_1" transform="translate(179 1095)"><circle r="6"/><text>13896</text></g>
<g id="m27_2" transform="translate(200 1095)"><circle r="6"/><text>6</text></g>
<g id="m27_3" transform="translate(211 1095)"><circle r="6"/><text>21169</text></g>
<g id="m27_4" transform="translate(222 1095)"><circle r="6"/><text>7532</text></g>
<g id="m27_5" transform="translate(233 1095)"><circle r="6"/><text>109701</text></g>
<g id="m27_6" transform="translate(244 1095)"><circle r="6"/><text>98446</text></g>
<g id="m27_7" transform="translate(254 1095)"><circle r="6"/><text>130476</text></g>
<g id="m27_8" transform="translate(265 1095)"><circle r="6"/><text>67589</text></g>
<g id="m27_9" transform="translate(424 1095)"><circle r="6"/><text>16273</text></g>
<g id="m27_10" transform="translate(435 1095)"><circle r="6"/><text>76726</text></g>
<g id="m27_11" transform="translate(446 1095)"><circle r="6"/><text>12095</text></g>
<g id="m27_12" transform="translate(457 1095)"><circle r="6"/><text>14270</text></g>
<g id="m27_13" transform="translate(467 1095)"><circle r="6"/><text>20431</text></g>
<g id="m27_14" transform="translate(478 1095)"><circle r="6"/><text>13597</text></g>
<g id="m27_15" transform="translate(489 1095)"><circle r="6"/><text>72913</text></g>
<g id="m27_16" transform="translate(505 1095)"><circle r="6"/><text>17981</text></g>
<g id="m27_17" transform="translate(521 1095)"><circle r="6"/><text>7766</text></g>
<g id="m27_18" transform="translate(532 1095)"><circle r="6"/><text>102256</text></g>
<g id="m27_19" transform="translate(543 1095)"><circle r="6"/><text>40736</text></g>
<g id="m27_20" transform="translate(554 1095)"><circle r="6"/><text>16776</text></g>
<g id="m27_21" transform="translate(565 1095)"><circle r="6"/><text>86795</text></g>
<g id="m27_22" transform="translate(586 1095)"><circle r="6"/><text>56962</text></g>
<g id="m27_23" transform="translate(667 1095)"><circle r="6"/><text>25105</text></g>
<g id="m27_24" transform="translate(678 1095)"><circle r="6"/><text>12627</text></g>
<g id="m27_25" transform="translate(748 1095)"><circle r="6"/><text>16935</text></g>
<g id="m27_26" transform="translate(901 1095)"><circle r="6"/><text>16535</text></g>
<g id="m27_27" transform="translate(928 1095)"><circle r="6"/><text>80772</text></g>
<g id="m27_28" transform="translate(939 1095)"><circle r="6"/><text>78473</text></g>
<g id="m27_29" transform="translate(1004 1095)"><circle r="6"/><text>55761</text></g>
<g id="m27_30" transform="translate(1107 1095)"><circle r="6"/><text>70467</text></g>
<g id="m27_31" transform="translate(1145 1095)"><circle r="6"/><text>63768</text></g>
<g id="m27_32" transform="translate(1199 1095)"><circle r="6"/><text>26436</text></g>
<g id="m27_33" transform="translate(1210 1095)"><circle r="6"/><text>64078</text></g>
<g id="m27_34" transform="translate(1221 1095)"><circle r="6"/><text>72479</text></g>
<g id="m27_35" transform="translate(1232 1095)"><circle r="6"/><text>61807</text></g>
<g id="m27_36" transform="translate(1243 1095)"><circle r="6"/><text>63993</text></g>
<g id="m28_1" transform="translate(265 1123)"><circle r="6"/><text>98270</text></g>
<g id="m28_2" transform="translate(462 1123)"><circle r="6"/><text>72502</text></g>
<g id="m28_3" transform="translate(478 1123)"><circle r="6"/><text>67457</text></g>
<g id="m28_4" transform="translate(489 1123)"><circle r="6"/><text>15027</text></g>
<g id="m28_5" transform="translate(500 1123)"><circle r="6"/><text>11452</text></g>
<g id="m28_6" transform="translate(511 1123)"><circle r="6"/><text>17995</text></g>
<g id="m28_7" transform="translate(522 1123)"><circle r="6"/><text>14640</text></g>
<g id="m28_8" transform="translate(533 1123)"><circle r="6"/><text>37583</text></g>
<g id="m28_9" transform="translate(1210 1123)"><circle r="6"/><text>81620</text></g>
<g id="m28_10" transform="translate(1221 1123)"><circle r="6"/><text>79265</text></g>
<g id="m29_1" transform="translate(511 1152)"><circle r="6"/><text>127568</text></g>
<g id="m29_2" transform="translate(522 1152)"><circle r="6"/><text>82380</text></g>
<g id="m30_1" transform="translate(522 1180)"><circle r="6"/><text>222769</text></g>
<g id="b2" transform="translate(744 1232)"><circle r="6"/><text>119448</text></g>
<g id="b3" transform="translate(765 1232)"><circle r="6"/><text>118039</text></g>
<g id="b1" transform="translate(755 1229)"><circle r="6"/><text>17927</text></g>
<g id="b4" transform="translate(736 1261)"><circle r="6"/><text>118920</text></g>
<g id="b5" transform="translate(752 1262)"><circle r="6"/><text>120828</text></g>
<g id="b6" transform="translate(759 1261)"><circle r="6"/><text>10002</text></g>
<g id="b7" transform="translate(771 1261)"><circle r="6"/><text>118996</text></g>
<g id="b8" transform="translate(731 1289)"><circle r="6"/><text>123476</text></g>
<g id="b9" transform="translate(742 1289)"><circle r="6"/><text>120907</text></g>
<g id="b10" transform="translate(752 1289)"><circle r="6"/><text>171604</text></g>
<g id="b11" transform="translate(771 1289)"><circle r="6"/><text>184628</text></g>
<g id="b12" transform="translate(731 1318)"><circle r="6"/><text>152910</text></g>
<g id="b13" transform="translate(771 1318)"><circle r="6"/><text>17661</text></g>
<g id="b14" transform="translate(759 1346)"><circle r="6"/><text>178456</text></g>
<g id="b15" transform="translate(771 1346)"><circle r="6"/><text>183463</text></g>
<g id="b16" transform="translate(782 1346)"><circle r="6"/><text>126727</text></g>
</g>
</svg>
